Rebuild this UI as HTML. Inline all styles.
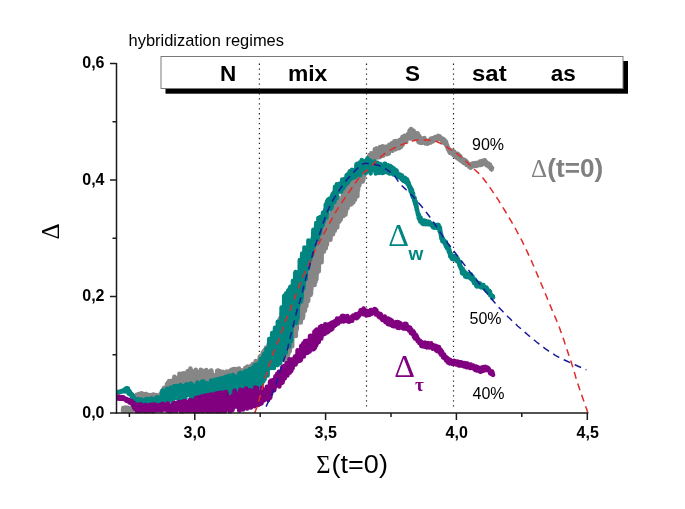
<!DOCTYPE html>
<html><head><meta charset="utf-8"><style>
html,body{margin:0;padding:0;background:#fff;}
svg{display:block;font-family:"Liberation Sans", sans-serif;will-change:transform;}
</style></head><body>
<svg width="685" height="509" viewBox="0 0 685 509">
<rect width="685" height="509" fill="#fff"/>
<!-- regime box -->
<rect x="165.5" y="61" width="462.5" height="32.7" fill="#000"/>
<rect x="161" y="56.5" width="462" height="32" fill="#fff" stroke="#7a7a7a" stroke-width="1"/>
<!-- dotted regime lines -->
<g stroke="#222" stroke-width="1.2" stroke-dasharray="1.3 3.65">
<line x1="259.4" y1="63.6" x2="259.4" y2="407"/>
<line x1="366.5" y1="63.6" x2="366.5" y2="407"/>
<line x1="453.5" y1="63.6" x2="453.5" y2="407"/>
</g>
<!-- curves -->
<clipPath id="pc"><rect x="117" y="40" width="480" height="373.5"/></clipPath>
<g clip-path="url(#pc)" fill="none" stroke-linejoin="round" stroke-linecap="round" stroke-width="4.5">
<polyline stroke="#868686" points="123.0,410.8 123.2,408.1 123.4,409.8 123.6,408.9 123.8,408.9 124.0,409.1 124.2,407.7 124.4,409.0 124.6,408.3 124.8,410.8 125.0,409.3 125.2,408.7 125.4,408.7 125.6,408.2 125.8,407.7 126.0,408.4 126.2,409.5 126.4,408.5 126.6,410.0 126.8,408.5 127.0,408.7 127.2,410.8 127.4,409.4 127.6,407.8 127.8,408.3 128.0,409.3 128.2,410.9 128.4,408.3 128.6,408.5 128.8,410.1 129.0,408.0 129.2,408.8 129.4,410.1 129.6,409.9 129.8,409.5 130.0,410.1 130.2,408.4 130.4,410.4 130.6,409.2 130.8,409.0 131.0,410.1 131.2,410.4 131.4,410.0 131.6,410.0 131.8,410.4 132.0,410.5 132.2,410.3 132.4,409.6 132.6,408.9 132.8,408.9 133.0,407.5 133.2,406.2 133.4,407.0 133.6,406.5 133.8,405.1 134.0,403.7 134.2,404.5 134.4,401.1 134.6,404.2 134.8,403.3 135.0,398.9 135.2,401.4 135.4,398.7 135.6,401.9 135.8,395.8 136.0,396.7 136.2,400.7 136.4,401.7 136.6,394.8 136.8,397.4 137.0,399.3 137.2,396.9 137.4,402.1 137.6,395.3 137.8,398.9 138.0,395.5 138.2,401.2 138.4,397.7 138.6,396.8 138.8,394.0 139.0,401.1 139.2,399.1 139.4,399.0 139.6,399.8 139.8,397.9 140.0,395.6 140.2,395.1 140.4,395.0 140.6,399.7 140.8,393.4 141.0,395.2 141.2,395.8 141.4,397.0 141.6,397.8 141.8,393.9 142.0,393.3 142.2,396.6 142.4,399.2 142.6,398.2 142.8,397.1 143.0,396.1 143.2,397.3 143.4,396.3 143.6,398.4 143.8,395.2 144.0,397.1 144.2,396.6 144.4,397.9 144.6,397.3 144.8,399.9 145.0,399.7 145.2,399.7 145.4,394.0 145.6,396.3 145.8,395.9 146.0,398.0 146.2,394.1 146.4,399.2 146.6,399.0 146.8,394.6 147.0,395.2 147.2,395.5 147.4,397.1 147.6,398.2 147.8,399.9 148.0,396.6 148.2,398.4 148.4,397.3 148.6,399.9 148.8,398.4 149.0,399.5 149.2,395.0 149.4,396.6 149.6,395.5 149.8,399.8 150.0,398.2 150.2,396.4 150.4,396.2 150.6,397.9 150.8,395.7 151.0,395.3 151.2,397.9 151.4,400.0 151.6,396.6 151.8,396.1 152.0,395.0 152.2,394.8 152.4,398.2 152.6,398.8 152.8,397.3 153.0,397.9 153.2,397.6 153.4,397.7 153.6,394.6 153.8,396.6 154.0,397.7 154.2,396.1 154.4,396.7 154.6,396.1 154.8,397.0 155.0,399.2 155.2,397.0 155.4,397.5 155.6,399.3 155.8,399.0 156.0,400.7 156.2,395.0 156.4,399.5 156.6,397.0 156.8,398.2 157.0,399.5 157.2,399.9 157.4,399.7 157.6,397.9 157.8,400.6 158.0,396.7 158.2,396.9 158.4,398.7 158.6,395.7 158.8,400.1 159.0,398.8 159.2,400.0 159.4,396.2 159.6,395.3 159.8,396.4 160.0,397.6 160.2,394.3 160.4,396.5 160.6,395.4 160.8,399.3 161.0,393.4 161.2,397.8 161.4,393.1 161.6,392.1 161.8,392.6 162.0,391.1 162.2,394.7 162.4,397.1 162.6,394.5 162.8,395.7 163.0,398.4 163.2,394.4 163.4,394.0 163.6,392.4 163.8,388.2 164.0,395.4 164.2,387.7 164.4,394.8 164.6,392.5 164.8,396.2 165.0,391.9 165.2,389.1 165.4,393.1 165.6,389.6 165.8,390.8 166.0,391.5 166.2,390.6 166.4,390.3 166.6,387.5 166.8,389.9 167.0,383.9 167.2,389.7 167.4,385.0 167.6,394.9 167.8,395.5 168.0,382.6 168.2,390.2 168.4,388.7 168.6,384.2 168.8,391.5 169.0,386.6 169.2,380.9 169.4,387.2 169.6,387.6 169.8,388.7 170.0,381.6 170.2,391.0 170.4,391.4 170.6,381.4 170.8,383.7 171.0,386.5 171.2,383.7 171.4,394.7 171.6,387.3 171.8,380.7 172.0,381.6 172.2,385.3 172.4,393.7 172.6,384.2 172.8,385.6 173.0,387.5 173.2,384.3 173.4,392.8 173.6,381.2 173.8,387.9 174.0,384.5 174.2,386.8 174.4,376.7 174.6,391.6 174.8,382.1 175.0,382.7 175.2,377.4 175.4,378.5 175.6,385.6 175.8,387.9 176.0,386.6 176.2,389.1 176.4,386.4 176.6,382.7 176.8,387.1 177.0,385.8 177.2,381.9 177.4,386.5 177.6,389.6 177.8,383.8 178.0,380.5 178.2,386.5 178.4,391.2 178.6,381.3 178.8,382.0 179.0,381.7 179.2,389.2 179.4,373.8 179.6,384.5 179.8,389.1 180.0,378.0 180.2,390.7 180.4,385.4 180.6,379.4 180.8,383.5 181.0,373.9 181.2,379.2 181.4,390.9 181.6,377.3 181.8,390.9 182.0,381.7 182.2,387.6 182.4,382.3 182.6,373.4 182.8,378.9 183.0,383.0 183.2,375.6 183.4,374.5 183.6,383.9 183.8,378.3 184.0,373.2 184.2,378.0 184.4,386.5 184.6,379.1 184.8,386.8 185.0,390.1 185.2,381.8 185.4,375.4 185.6,374.4 185.8,381.4 186.0,386.3 186.2,382.9 186.4,384.3 186.6,378.6 186.8,382.6 187.0,378.1 187.2,378.8 187.4,373.1 187.6,371.2 187.8,377.4 188.0,373.6 188.2,374.3 188.4,383.8 188.6,379.0 188.8,389.1 189.0,385.1 189.2,375.4 189.4,383.9 189.6,381.2 189.8,374.5 190.0,385.6 190.2,373.6 190.4,368.4 190.6,383.4 190.8,374.2 191.0,387.7 191.2,373.8 191.4,370.5 191.6,388.1 191.8,371.3 192.0,379.5 192.2,387.4 192.4,379.0 192.6,377.8 192.8,379.0 193.0,383.6 193.2,373.4 193.4,382.3 193.6,382.1 193.8,388.2 194.0,376.5 194.2,373.1 194.4,383.1 194.6,376.3 194.8,380.5 195.0,379.6 195.2,385.8 195.4,375.0 195.6,378.4 195.8,369.7 196.0,373.8 196.2,387.9 196.4,375.0 196.6,374.9 196.8,371.9 197.0,382.2 197.2,379.9 197.4,372.0 197.6,382.6 197.8,380.3 198.0,383.1 198.2,375.1 198.4,387.6 198.6,381.0 198.8,378.0 199.0,375.8 199.2,377.3 199.4,383.4 199.6,377.1 199.8,384.6 200.0,381.8 200.2,386.0 200.4,383.0 200.6,378.1 200.8,369.8 201.0,380.1 201.2,382.7 201.4,379.3 201.6,381.4 201.8,375.8 202.0,376.3 202.2,373.2 202.4,385.6 202.6,379.1 202.8,375.6 203.0,371.1 203.2,377.4 203.4,385.8 203.6,380.6 203.8,374.3 204.0,385.6 204.2,385.6 204.4,383.2 204.6,382.1 204.8,384.0 205.0,380.8 205.2,382.0 205.4,374.0 205.6,385.7 205.8,379.2 206.0,386.1 206.2,370.0 206.4,381.7 206.6,383.1 206.8,376.3 207.0,380.4 207.2,381.9 207.4,381.1 207.6,375.4 207.8,377.4 208.0,383.3 208.2,384.6 208.4,378.7 208.6,378.6 208.8,379.2 209.0,383.4 209.2,372.9 209.4,371.5 209.6,378.9 209.8,372.7 210.0,375.3 210.2,378.7 210.4,380.7 210.6,372.9 210.8,382.3 211.0,370.5 211.2,381.0 211.4,370.5 211.6,372.0 211.8,381.5 212.0,376.3 212.2,374.4 212.4,376.2 212.6,380.7 212.8,378.1 213.0,378.3 213.2,383.6 213.4,374.9 213.6,376.1 213.8,375.9 214.0,384.1 214.2,383.3 214.4,384.7 214.6,378.3 214.8,377.7 215.0,382.6 215.2,376.6 215.4,382.4 215.6,381.9 215.8,375.0 216.0,378.0 216.2,377.7 216.4,385.8 216.6,385.8 216.8,377.8 217.0,378.3 217.2,370.7 217.4,379.1 217.6,378.1 217.8,373.0 218.0,381.8 218.2,370.6 218.4,377.0 218.6,378.6 218.8,372.1 219.0,381.9 219.2,382.8 219.4,371.3 219.6,371.2 219.8,380.6 220.0,377.6 220.2,372.1 220.4,376.3 220.6,377.2 220.8,377.0 221.0,381.4 221.2,379.3 221.4,384.8 221.6,383.9 221.8,380.6 222.0,382.4 222.2,383.5 222.4,380.6 222.6,371.7 222.8,381.3 223.0,377.6 223.2,384.5 223.4,377.7 223.6,379.6 223.8,378.7 224.0,384.3 224.2,377.9 224.4,375.9 224.6,378.5 224.8,375.0 225.0,377.7 225.2,376.9 225.4,378.1 225.6,383.9 225.8,375.0 226.0,377.0 226.2,375.9 226.4,379.7 226.6,371.5 226.8,373.6 227.0,376.4 227.2,378.9 227.4,376.3 227.6,374.3 227.8,372.7 228.0,378.6 228.2,382.5 228.4,377.7 228.6,377.1 228.8,378.1 229.0,372.2 229.2,374.8 229.4,375.0 229.6,377.3 229.8,375.9 230.0,370.9 230.2,380.6 230.4,382.4 230.6,374.8 230.8,377.5 231.0,376.9 231.2,379.0 231.4,369.7 231.6,382.1 231.8,373.7 232.0,380.7 232.2,375.9 232.4,374.0 232.6,374.9 232.8,379.0 233.0,372.0 233.2,373.9 233.4,373.4 233.6,369.1 233.8,380.3 234.0,377.5 234.2,375.1 234.4,379.6 234.6,371.4 234.8,374.8 235.0,381.0 235.2,378.7 235.4,368.9 235.6,368.9 235.8,370.9 236.0,379.0 236.2,373.1 236.4,374.0 236.6,377.2 236.8,371.4 237.0,375.6 237.2,377.8 237.4,376.6 237.6,376.3 237.8,372.4 238.0,376.7 238.2,373.0 238.4,379.7 238.6,380.7 238.8,371.8 239.0,368.6 239.2,372.9 239.4,376.0 239.6,378.6 239.8,378.7 240.0,371.5 240.2,371.4 240.4,379.3 240.6,370.3 240.8,378.6 241.0,373.5 241.2,377.3 241.4,377.1 241.6,377.3 241.8,377.5 242.0,370.5 242.2,375.4 242.4,374.3 242.6,375.4 242.8,378.9 243.0,373.2 243.2,371.5 243.4,371.4 243.6,372.9 243.8,377.0 244.0,371.0 244.2,378.5 244.4,375.2 244.6,373.2 244.8,368.9 245.0,374.9 245.2,376.6 245.4,367.7 245.6,378.3 245.8,379.7 246.0,374.8 246.2,375.3 246.4,379.5 246.6,378.1 246.8,369.6 247.0,372.9 247.2,372.3 247.4,372.2 247.6,366.4 247.8,375.6 248.0,369.9 248.2,373.1 248.4,371.7 248.6,375.7 248.8,370.9 249.0,368.7 249.2,374.1 249.4,377.6 249.6,370.4 249.8,377.3 250.0,372.6 250.2,369.2 250.4,377.7 250.6,367.8 250.8,375.4 251.0,368.9 251.2,372.8 251.4,365.5 251.6,367.1 251.8,375.2 252.0,371.3 252.2,370.6 252.4,368.4 252.6,372.1 252.8,364.0 253.0,365.1 253.2,369.2 253.4,366.1 253.6,366.6 253.8,369.3 254.0,368.9 254.2,368.4 254.4,376.3 254.6,373.7 254.8,374.6 255.0,368.9 255.2,366.5 255.4,362.0 255.6,366.9 255.8,360.9 256.0,365.4 256.2,371.5 256.4,375.3 256.6,372.2 256.8,363.2 257.0,369.6 257.2,363.1 257.4,370.9 257.6,366.1 257.8,370.8 258.0,374.3 258.2,370.9 258.4,374.1 258.6,366.7 258.8,363.8 259.0,372.5 259.2,373.6 259.4,362.1 259.6,365.3 259.8,356.8 260.0,363.4 260.2,369.2 260.4,363.7 260.6,360.8 260.8,355.8 261.0,365.7 261.2,368.0 261.4,366.7 261.6,364.5 261.8,355.4 262.0,372.0 262.2,362.2 262.4,361.5 262.6,366.6 262.8,352.4 263.0,361.4 263.2,360.8 263.4,363.7 263.6,369.6 263.8,364.0 264.0,351.0 264.2,358.6 264.4,361.9 264.6,361.3 264.8,351.9 265.0,349.8 265.2,363.4 265.4,361.8 265.6,359.1 265.8,348.3 266.0,369.6 266.2,347.6 266.4,355.7 266.6,369.2 266.8,356.6 267.0,359.2 267.2,348.6 267.4,367.0 267.6,347.1 267.8,358.4 268.0,357.3 268.2,347.9 268.4,362.6 268.6,344.4 268.8,349.9 269.0,354.8 269.2,351.4 269.4,358.3 269.6,361.8 269.8,351.6 270.0,349.2 270.2,349.2 270.4,350.1 270.6,359.9 270.8,350.9 271.0,356.0 271.2,351.5 271.4,344.5 271.6,359.5 271.8,342.2 272.0,351.3 272.2,364.6 272.4,340.7 272.6,350.0 272.8,335.5 273.0,345.2 273.2,335.5 273.4,346.0 273.6,344.1 273.8,350.3 274.0,364.2 274.2,351.3 274.4,354.8 274.6,347.5 274.8,345.3 275.0,339.0 275.2,331.0 275.4,347.8 275.6,363.9 275.8,351.9 276.0,340.5 276.2,364.3 276.4,341.1 276.6,338.6 276.8,331.1 277.0,333.7 277.2,342.2 277.4,365.1 277.6,342.2 277.8,331.2 278.0,336.4 278.2,341.3 278.4,322.5 278.6,345.7 278.8,353.6 279.0,348.1 279.2,352.1 279.4,324.0 279.6,319.3 279.8,362.2 280.0,359.4 280.2,318.2 280.4,345.4 280.6,342.3 280.8,350.6 281.0,344.9 281.2,332.9 281.4,344.4 281.6,343.6 281.8,339.9 282.0,312.9 282.2,312.6 282.4,325.9 282.6,311.8 282.8,343.4 283.0,351.1 283.2,342.8 283.4,331.4 283.6,338.7 283.8,357.4 284.0,324.0 284.2,352.3 284.4,348.2 284.6,340.1 284.8,360.3 285.0,322.3 285.2,350.7 285.4,317.9 285.6,320.3 285.8,314.9 286.0,340.5 286.2,316.2 286.4,333.0 286.6,312.1 286.8,349.7 287.0,358.0 287.2,334.4 287.4,357.2 287.6,339.4 287.8,356.4 288.0,330.7 288.2,301.7 288.4,353.8 288.6,325.7 288.8,309.7 289.0,315.9 289.2,299.8 289.4,323.5 289.6,307.6 289.8,350.9 290.0,336.5 290.2,297.9 290.4,298.7 290.6,314.4 290.8,296.8 291.0,321.4 291.2,322.1 291.4,309.4 291.6,312.8 291.8,330.2 292.0,345.4 292.2,346.3 292.4,321.1 292.6,334.7 292.8,307.3 293.0,326.4 293.2,302.8 293.4,331.0 293.6,297.4 293.8,301.6 294.0,317.4 294.2,326.3 294.4,292.2 294.6,306.8 294.8,317.5 295.0,318.5 295.2,300.0 295.4,315.2 295.6,308.5 295.8,336.0 296.0,321.2 296.2,289.1 296.4,284.4 296.6,311.9 296.8,329.4 297.0,312.0 297.2,323.2 297.4,299.8 297.6,284.6 297.8,319.3 298.0,307.9 298.2,317.1 298.4,282.1 298.6,307.6 298.8,293.6 299.0,316.8 299.2,293.2 299.4,292.2 299.6,292.0 299.8,322.2 300.0,301.1 300.2,287.5 300.4,282.6 300.6,281.6 300.8,322.6 301.0,271.8 301.2,283.2 301.4,307.2 301.6,315.6 301.8,293.1 302.0,308.0 302.2,306.9 302.4,310.0 302.6,294.0 302.8,318.3 303.0,295.5 303.2,316.4 303.4,273.3 303.6,305.6 303.8,269.8 304.0,265.4 304.2,296.8 304.4,275.1 304.6,294.7 304.8,270.2 305.0,310.7 305.2,286.1 305.4,267.7 305.6,287.6 305.8,297.9 306.0,271.8 306.2,291.0 306.4,305.9 306.6,295.2 306.8,281.2 307.0,272.1 307.2,289.1 307.4,256.9 307.6,254.8 307.8,268.9 308.0,262.2 308.2,301.0 308.4,279.7 308.6,262.4 308.8,259.3 309.0,283.8 309.2,263.4 309.4,266.7 309.6,273.6 309.8,275.8 310.0,275.5 310.2,275.4 310.4,292.5 310.6,295.1 310.8,248.0 311.0,294.1 311.2,273.3 311.4,289.3 311.6,259.6 311.8,274.9 312.0,272.8 312.2,270.8 312.4,281.2 312.6,277.5 312.8,253.1 313.0,265.7 313.2,277.5 313.4,276.5 313.6,261.1 313.8,261.5 314.0,262.9 314.2,248.7 314.4,245.6 314.6,284.9 314.8,257.5 315.0,263.9 315.2,251.6 315.4,279.5 315.6,281.7 315.8,257.5 316.0,267.0 316.2,249.3 316.4,279.1 316.6,270.8 316.8,246.9 317.0,273.8 317.2,261.7 317.4,261.8 317.6,260.5 317.8,246.9 318.0,248.1 318.2,262.2 318.4,253.3 318.6,241.7 318.8,271.3 319.0,249.8 319.2,245.1 319.4,243.0 319.6,259.0 319.8,261.8 320.0,252.7 320.2,259.4 320.4,231.5 320.6,244.0 320.8,242.4 321.0,247.3 321.2,252.2 321.4,228.1 321.6,262.3 321.8,235.8 322.0,248.4 322.2,253.0 322.4,252.7 322.6,245.7 322.8,225.6 323.0,230.9 323.2,249.3 323.4,231.7 323.6,229.9 323.8,223.9 324.0,251.5 324.2,244.1 324.4,229.9 324.6,237.0 324.8,236.9 325.0,226.5 325.2,234.4 325.4,239.1 325.6,241.6 325.8,248.2 326.0,235.7 326.2,230.6 326.4,238.6 326.6,228.2 326.8,221.7 327.0,244.5 327.2,229.4 327.4,233.9 327.6,238.6 327.8,221.3 328.0,237.7 328.2,235.5 328.4,229.8 328.6,234.1 328.8,222.7 329.0,214.4 329.2,226.5 329.4,220.1 329.6,236.7 329.8,230.6 330.0,222.6 330.2,227.7 330.4,239.7 330.6,237.3 330.8,229.6 331.0,229.8 331.2,222.7 331.4,223.8 331.6,230.1 331.8,223.1 332.0,226.6 332.2,213.0 332.4,208.1 332.6,207.8 332.8,218.2 333.0,234.3 333.2,232.5 333.4,211.8 333.6,206.3 333.8,227.7 334.0,224.3 334.2,206.9 334.4,229.0 334.6,220.4 334.8,230.7 335.0,221.2 335.2,225.9 335.4,220.2 335.6,208.2 335.8,214.4 336.0,209.9 336.2,223.4 336.4,206.3 336.6,201.1 336.8,221.1 337.0,225.0 337.2,227.4 337.4,223.8 337.6,199.6 337.8,206.7 338.0,207.8 338.2,212.2 338.4,197.6 338.6,211.7 338.8,214.0 339.0,202.4 339.2,211.9 339.4,221.4 339.6,210.5 339.8,219.5 340.0,218.7 340.2,212.9 340.4,212.3 340.6,205.0 340.8,219.5 341.0,203.5 341.2,201.0 341.4,213.6 341.6,200.1 341.8,210.3 342.0,215.8 342.2,206.5 342.4,206.4 342.6,213.5 342.8,211.7 343.0,190.3 343.2,192.1 343.4,216.0 343.6,207.0 343.8,188.6 344.0,190.4 344.2,202.7 344.4,193.2 344.6,206.1 344.8,202.2 345.0,205.7 345.2,190.1 345.4,206.2 345.6,214.4 345.8,192.6 346.0,211.6 346.2,208.2 346.4,204.8 346.6,197.9 346.8,187.5 347.0,189.8 347.2,204.5 347.4,206.2 347.6,208.1 347.8,205.3 348.0,204.5 348.2,191.9 348.4,184.6 348.6,197.2 348.8,199.6 349.0,195.6 349.2,180.6 349.4,189.4 349.6,180.4 349.8,194.9 350.0,183.8 350.2,191.5 350.4,195.7 350.6,193.7 350.8,204.6 351.0,181.9 351.2,177.1 351.4,199.9 351.6,203.7 351.8,203.7 352.0,193.0 352.2,195.0 352.4,191.0 352.6,177.9 352.8,184.2 353.0,193.5 353.2,183.5 353.4,202.3 353.6,174.3 353.8,184.0 354.0,197.5 354.2,181.8 354.4,176.9 354.6,174.5 354.8,179.9 355.0,199.6 355.2,189.5 355.4,190.2 355.6,180.6 355.8,192.5 356.0,185.6 356.2,176.2 356.4,180.1 356.6,185.6 356.8,193.9 357.0,182.7 357.2,187.4 357.4,196.3 357.6,175.3 357.8,171.1 358.0,190.5 358.2,185.2 358.4,180.2 358.6,182.9 358.8,177.6 359.0,184.1 359.2,176.9 359.4,185.5 359.6,169.7 359.8,172.2 360.0,178.9 360.2,174.2 360.4,182.3 360.6,176.6 360.8,172.8 361.0,177.6 361.2,172.3 361.4,165.2 361.6,167.7 361.8,169.6 362.0,171.4 362.2,174.5 362.4,178.9 362.6,176.4 362.8,181.5 363.0,179.5 363.2,171.1 363.4,179.7 363.6,177.3 363.8,168.7 364.0,172.1 364.2,175.3 364.4,170.9 364.6,173.9 364.8,170.8 365.0,171.6 365.2,167.0 365.4,169.5 365.6,166.2 365.8,170.0 366.0,160.4 366.2,167.9 366.4,171.2 366.6,168.1 366.8,165.4 367.0,167.2 367.2,161.6 367.4,161.3 367.6,162.8 367.8,163.2 368.0,167.0 368.2,159.8 368.4,166.3 368.6,156.8 368.8,159.2 369.0,161.5 369.2,165.3 369.4,158.9 369.6,155.1 369.8,161.7 370.0,159.8 370.2,156.0 370.4,155.8 370.6,156.6 370.8,158.8 371.0,160.2 371.2,153.3 371.4,162.6 371.6,157.4 371.8,156.2 372.0,159.3 372.2,157.3 372.4,161.6 372.6,160.0 372.8,155.2 373.0,154.9 373.2,154.4 373.4,154.7 373.6,157.7 373.8,153.3 374.0,160.0 374.2,154.7 374.4,154.3 374.6,157.5 374.8,149.2 375.0,151.2 375.2,156.0 375.4,154.0 375.6,153.9 375.8,155.1 376.0,151.8 376.2,153.1 376.4,149.3 376.6,148.4 376.8,157.4 377.0,150.4 377.2,151.0 377.4,157.6 377.6,156.5 377.8,151.4 378.0,151.3 378.2,152.6 378.4,149.8 378.6,154.5 378.8,153.1 379.0,153.0 379.2,154.9 379.4,154.7 379.6,157.2 379.8,157.1 380.0,147.1 380.2,155.0 380.4,148.5 380.6,147.4 380.8,154.1 381.0,149.6 381.2,150.7 381.4,155.0 381.6,149.5 381.8,148.7 382.0,152.5 382.2,155.2 382.4,152.9 382.6,146.3 382.8,149.1 383.0,150.6 383.2,155.8 383.4,153.7 383.6,153.5 383.8,154.5 384.0,149.7 384.2,152.1 384.4,152.1 384.6,147.3 384.8,150.3 385.0,152.1 385.2,146.8 385.4,152.7 385.6,152.4 385.8,153.2 386.0,147.4 386.2,150.2 386.4,154.3 386.6,152.2 386.8,147.1 387.0,150.2 387.2,153.9 387.4,149.1 387.6,150.5 387.8,154.1 388.0,149.0 388.2,148.7 388.4,145.8 388.6,146.8 388.8,153.6 389.0,148.3 389.2,144.8 389.4,145.6 389.6,148.5 389.8,150.9 390.0,145.9 390.2,150.6 390.4,146.6 390.6,149.2 390.8,149.7 391.0,149.9 391.2,146.4 391.4,147.2 391.6,149.3 391.8,143.3 392.0,148.1 392.2,149.1 392.4,150.8 392.6,147.1 392.8,146.6 393.0,147.6 393.2,144.5 393.4,146.2 393.6,148.2 393.8,147.7 394.0,143.1 394.2,145.5 394.4,141.2 394.6,149.2 394.8,144.5 395.0,147.1 395.2,142.4 395.4,145.8 395.6,147.6 395.8,149.3 396.0,141.1 396.2,148.7 396.4,145.1 396.6,142.9 396.8,147.2 397.0,144.4 397.2,144.3 397.4,142.7 397.6,145.7 397.8,144.9 398.0,144.1 398.2,141.3 398.4,142.7 398.6,145.5 398.8,148.2 399.0,143.8 399.2,148.2 399.4,143.5 399.6,140.0 399.8,145.2 400.0,140.1 400.2,144.1 400.4,146.0 400.6,141.7 400.8,142.2 401.0,147.0 401.2,142.8 401.4,142.7 401.6,144.0 401.8,141.4 402.0,141.3 402.2,142.4 402.4,137.0 402.6,144.9 402.8,138.0 403.0,137.9 403.2,142.0 403.4,140.5 403.6,137.1 403.8,140.6 404.0,137.1 404.2,138.0 404.4,135.8 404.6,137.3 404.8,140.2 405.0,139.3 405.2,139.6 405.4,141.0 405.6,138.4 405.8,136.6 406.0,137.4 406.2,142.1 406.4,137.8 406.6,138.4 406.8,137.1 407.0,137.8 407.2,138.1 407.4,136.8 407.6,136.2 407.8,134.3 408.0,134.0 408.2,137.1 408.4,137.9 408.6,138.2 408.8,135.6 409.0,133.1 409.2,136.8 409.4,136.6 409.6,130.6 409.8,136.8 410.0,136.0 410.2,138.6 410.4,130.9 410.6,130.2 410.8,135.9 411.0,129.0 411.2,131.5 411.4,130.6 411.6,130.9 411.8,129.5 412.0,133.3 412.2,136.7 412.4,135.4 412.6,135.5 412.8,133.4 413.0,138.4 413.2,136.0 413.4,137.5 413.6,130.7 413.8,135.8 414.0,132.0 414.2,136.0 414.4,135.7 414.6,132.4 414.8,135.8 415.0,138.5 415.2,136.9 415.4,137.2 415.6,133.6 415.8,134.2 416.0,133.2 416.2,136.5 416.4,139.3 416.6,137.5 416.8,136.6 417.0,134.0 417.2,138.0 417.4,136.5 417.6,133.3 417.8,133.4 418.0,136.7 418.2,135.4 418.4,141.7 418.6,138.0 418.8,135.5 419.0,137.0 419.2,142.3 419.4,136.2 419.6,140.6 419.8,139.9 420.0,142.7 420.2,140.4 420.4,138.2 420.6,140.5 420.8,139.5 421.0,141.6 421.2,139.3 421.4,143.1 421.6,139.4 421.8,140.7 422.0,138.4 422.2,140.1 422.4,140.0 422.6,140.3 422.8,141.9 423.0,139.1 423.2,138.6 423.4,142.4 423.6,139.8 423.8,139.2 424.0,142.6 424.2,142.0 424.4,137.9 424.6,140.1 424.8,142.2 425.0,142.3 425.2,140.1 425.4,143.5 425.6,139.9 425.8,140.8 426.0,141.5 426.2,141.3 426.4,142.6 426.6,142.9 426.8,141.5 427.0,143.5 427.2,140.8 427.4,141.5 427.6,143.8 427.8,142.1 428.0,143.3 428.2,141.4 428.4,141.5 428.6,141.6 428.8,141.8 429.0,141.1 429.2,141.5 429.4,142.1 429.6,142.6 429.8,141.3 430.0,141.8 430.2,142.0 430.4,139.6 430.6,138.9 430.8,142.4 431.0,142.1 431.2,140.5 431.4,140.7 431.6,139.1 431.8,138.5 432.0,140.4 432.2,138.2 432.4,140.9 432.6,138.9 432.8,140.0 433.0,141.3 433.2,141.2 433.4,139.0 433.6,140.5 433.8,137.9 434.0,138.4 434.2,139.4 434.4,140.4 434.6,138.1 434.8,139.3 435.0,138.7 435.2,137.0 435.4,138.2 435.6,140.0 435.8,138.0 436.0,138.6 436.2,138.9 436.4,137.0 436.6,139.2 436.8,139.4 437.0,139.3 437.2,139.0 437.4,136.8 437.6,136.5 437.8,136.2 438.0,136.0 438.2,136.2 438.4,138.5 438.6,139.2 438.8,136.9 439.0,138.7 439.2,136.4 439.4,137.6 439.6,137.0 439.8,136.4 440.0,138.5 440.2,138.7 440.4,138.3 440.6,138.3 440.8,137.9 441.0,139.0 441.2,138.6 441.4,139.7 441.6,138.2 441.8,140.0 442.0,140.5 442.2,141.5 442.4,141.4 442.6,140.5 442.8,139.6 443.0,138.7 443.2,140.7 443.4,142.5 443.6,142.8 443.8,139.3 444.0,140.4 444.2,141.0 444.4,140.4 444.6,141.9 444.8,141.9 445.0,141.4 445.2,142.3 445.4,140.9 445.6,142.0 445.8,142.4 446.0,144.9 446.2,142.3 446.4,144.3 446.6,145.8 446.8,145.2 447.0,146.6 447.2,145.2 447.4,146.8 447.6,147.7 447.8,148.9 448.0,148.3 448.2,149.4 448.4,148.1 448.6,148.6 448.8,150.7 449.0,149.9 449.2,151.2 449.4,150.8 449.6,152.1 449.8,152.5 450.0,150.0 450.2,153.0 450.4,151.8 450.6,152.0 450.8,151.4 451.0,152.5 451.2,150.4 451.4,151.0 451.6,151.1 451.8,152.5 452.0,153.5 452.2,153.4 452.4,153.0 452.6,151.9 452.8,150.8 453.0,153.5 453.2,153.3 453.4,153.7 453.6,155.3 453.8,153.2 454.0,153.3 454.2,151.5 454.4,154.6 454.6,153.9 454.8,153.1 455.0,154.8 455.2,152.9 455.4,153.7 455.6,156.9 455.8,155.9 456.0,156.2 456.2,156.1 456.4,156.1 456.6,155.6 456.8,157.7 457.0,155.4 457.2,156.8 457.4,155.5 457.6,155.5 457.8,153.8 458.0,154.0 458.2,158.8 458.4,158.8 458.6,156.2 458.8,156.9 459.0,158.0 459.2,155.9 459.4,159.7 459.6,156.2 459.8,156.8 460.0,155.8 460.2,160.2 460.4,158.4 460.6,160.6 460.8,157.3 461.0,159.2 461.2,159.0 461.4,159.4 461.6,161.3 461.8,161.4 462.0,161.4 462.2,159.2 462.4,161.0 462.6,161.8 462.8,160.9 463.0,161.1 463.2,161.2 463.4,159.6 463.6,161.2 463.8,162.9 464.0,160.0 464.2,161.5 464.4,162.5 464.6,160.1 464.8,161.7 465.0,160.2 465.2,161.5 465.4,160.7 465.6,161.4 465.8,162.1 466.0,162.5 466.2,162.7 466.4,161.3 466.6,165.1 466.8,163.1 467.0,162.3 467.2,163.0 467.4,164.3 467.6,162.9 467.8,163.8 468.0,163.9 468.2,165.2 468.4,163.8 468.6,165.4 468.8,165.4 469.0,165.0 469.2,166.8 469.4,165.5 469.6,164.3 469.8,166.2 470.0,166.1 470.2,165.9 470.4,166.2 470.6,167.7 470.8,166.0 471.0,166.2 471.2,165.4 471.4,167.1 471.6,165.5 471.8,164.5 472.0,164.0 472.2,166.0 472.4,166.2 472.6,163.4 472.8,164.4 473.0,165.9 473.2,166.3 473.4,163.5 473.6,164.5 473.8,165.9 474.0,164.2 474.2,164.3 474.4,164.1 474.6,163.2 474.8,164.7 475.0,164.9 475.2,162.9 475.4,164.6 475.6,165.7 475.8,164.6 476.0,165.4 476.2,163.6 476.4,165.8 476.6,163.2 476.8,165.9 477.0,163.5 477.2,163.1 477.4,162.9 477.6,163.4 477.8,163.2 478.0,162.9 478.2,163.3 478.4,164.4 478.6,164.6 478.8,163.2 479.0,164.9 479.2,162.3 479.4,162.2 479.6,162.0 479.8,164.0 480.0,161.4 480.2,161.6 480.4,164.6 480.6,164.9 480.8,164.6 481.0,161.3 481.2,163.0 481.4,163.9 481.6,163.0 481.8,161.0 482.0,162.3 482.2,160.9 482.4,161.2 482.6,164.4 482.8,163.3 483.0,160.8 483.2,160.7 483.4,162.9 483.6,161.6 483.8,163.0 484.0,161.5 484.2,162.0 484.4,162.4 484.6,160.9 484.8,160.2 485.0,160.6 485.2,161.3 485.4,162.1 485.6,162.4 485.8,162.6 486.0,163.4 486.2,162.0 486.4,164.8 486.6,165.2 486.8,164.0 487.0,163.9 487.2,165.3 487.4,164.8 487.6,164.4 487.8,164.2 488.0,163.7 488.2,163.4 488.4,165.7 488.6,166.5 488.8,164.0 489.0,165.3 489.2,165.8 489.4,165.3 489.6,165.0 489.8,165.6 490.0,164.4 490.2,166.4 490.4,166.3 490.6,168.6 490.8,168.0 491.0,166.7 491.2,167.3 491.4,169.3 491.6,169.5 491.8,168.0 492.0,167.8"/>
<polyline stroke="#008581" points="117.0,392.1 117.2,392.1 117.4,392.1 117.6,392.1 117.8,392.1 118.0,392.0 118.2,391.9 118.4,391.9 118.6,392.0 118.8,392.0 119.0,391.9 119.2,391.7 119.4,391.7 119.6,392.0 119.8,391.8 120.0,391.6 120.2,391.7 120.4,391.6 120.6,391.6 120.8,391.6 121.0,391.5 121.2,391.7 121.4,391.6 121.6,391.5 121.8,391.6 122.0,391.6 122.2,391.1 122.4,391.3 122.6,391.0 122.8,391.2 123.0,390.7 123.2,391.1 123.4,391.0 123.6,390.8 123.8,390.3 124.0,390.6 124.2,390.1 124.4,389.8 124.6,390.8 124.8,389.7 125.0,391.5 125.2,391.1 125.4,388.9 125.6,390.7 125.8,389.2 126.0,390.4 126.2,390.4 126.4,388.2 126.6,389.9 126.8,389.8 127.0,391.6 127.2,388.3 127.4,391.3 127.6,388.2 127.8,389.4 128.0,388.5 128.2,392.9 128.4,391.5 128.6,393.5 128.8,392.1 129.0,392.7 129.2,392.9 129.4,390.9 129.6,392.0 129.8,394.3 130.0,392.1 130.2,393.2 130.4,393.2 130.6,394.2 130.8,393.3 131.0,393.8 131.2,394.6 131.4,394.8 131.6,394.0 131.8,396.4 132.0,394.2 132.2,394.7 132.4,395.0 132.6,397.9 132.8,396.7 133.0,396.4 133.2,396.5 133.4,398.7 133.6,397.3 133.8,397.4 134.0,400.0 134.2,398.2 134.4,399.6 134.6,400.3 134.8,400.1 135.0,400.9 135.2,402.6 135.4,400.4 135.6,399.5 135.8,399.2 136.0,400.8 136.2,400.6 136.4,401.4 136.6,400.5 136.8,400.5 137.0,400.2 137.2,400.4 137.4,401.3 137.6,400.6 137.8,401.2 138.0,403.1 138.2,401.7 138.4,399.2 138.6,403.1 138.8,401.6 139.0,400.0 139.2,402.3 139.4,401.2 139.6,400.4 139.8,400.4 140.0,399.9 140.2,401.3 140.4,402.6 140.6,400.8 140.8,401.8 141.0,403.3 141.2,399.6 141.4,401.6 141.6,400.8 141.8,399.8 142.0,399.9 142.2,401.3 142.4,401.9 142.6,400.6 142.8,401.4 143.0,402.3 143.2,401.7 143.4,402.5 143.6,402.0 143.8,402.0 144.0,403.5 144.2,402.2 144.4,401.5 144.6,402.4 144.8,400.1 145.0,400.9 145.2,402.5 145.4,402.3 145.6,403.6 145.8,401.4 146.0,399.3 146.2,403.7 146.4,403.0 146.6,399.9 146.8,403.5 147.0,401.5 147.2,399.1 147.4,400.9 147.6,400.7 147.8,403.8 148.0,400.3 148.2,401.1 148.4,401.1 148.6,400.9 148.8,400.0 149.0,401.8 149.2,403.1 149.4,402.4 149.6,399.9 149.8,399.5 150.0,401.5 150.2,400.2 150.4,400.3 150.6,398.8 150.8,403.9 151.0,402.8 151.2,399.7 151.4,402.8 151.6,403.5 151.8,398.6 152.0,400.3 152.2,400.5 152.4,402.3 152.6,401.0 152.8,400.8 153.0,401.0 153.2,403.9 153.4,403.9 153.6,400.2 153.8,399.4 154.0,403.9 154.2,399.3 154.4,400.0 154.6,401.1 154.8,401.9 155.0,402.9 155.2,401.7 155.4,399.3 155.6,401.8 155.8,401.3 156.0,403.9 156.2,400.7 156.4,398.0 156.6,398.5 156.8,403.6 157.0,399.5 157.2,397.2 157.4,399.3 157.6,400.5 157.8,403.1 158.0,398.1 158.2,401.9 158.4,402.1 158.6,398.7 158.8,399.8 159.0,403.9 159.2,403.9 159.4,402.2 159.6,400.9 159.8,402.9 160.0,399.6 160.2,399.5 160.4,397.2 160.6,399.2 160.8,398.7 161.0,403.3 161.2,397.8 161.4,402.1 161.6,402.1 161.8,397.0 162.0,401.3 162.2,391.6 162.4,397.1 162.6,399.7 162.8,390.4 163.0,391.6 163.2,400.0 163.4,394.9 163.6,391.6 163.8,394.4 164.0,393.7 164.2,398.6 164.4,397.5 164.6,394.6 164.8,393.0 165.0,395.4 165.2,400.7 165.4,396.9 165.6,398.0 165.8,394.8 166.0,390.2 166.2,392.5 166.4,397.9 166.6,395.6 166.8,391.6 167.0,388.8 167.2,395.5 167.4,393.7 167.6,393.6 167.8,393.6 168.0,396.1 168.2,396.1 168.4,398.8 168.6,398.6 168.8,400.2 169.0,398.0 169.2,393.3 169.4,394.4 169.6,396.6 169.8,393.3 170.0,396.8 170.2,399.3 170.4,391.0 170.6,387.7 170.8,399.3 171.0,394.3 171.2,397.1 171.4,388.4 171.6,400.8 171.8,397.1 172.0,393.4 172.2,392.3 172.4,394.3 172.6,393.0 172.8,392.4 173.0,388.7 173.2,399.1 173.4,393.3 173.6,393.7 173.8,393.8 174.0,386.3 174.2,395.6 174.4,391.7 174.6,391.8 174.8,393.4 175.0,388.6 175.2,396.8 175.4,389.8 175.6,388.9 175.8,389.0 176.0,393.7 176.2,396.3 176.4,390.2 176.6,386.0 176.8,397.7 177.0,388.0 177.2,398.3 177.4,392.6 177.6,389.6 177.8,389.9 178.0,394.9 178.2,396.9 178.4,391.9 178.6,397.2 178.8,400.1 179.0,391.8 179.2,387.3 179.4,387.8 179.6,386.2 179.8,389.7 180.0,389.2 180.2,386.4 180.4,395.2 180.6,385.1 180.8,386.3 181.0,400.1 181.2,397.5 181.4,395.1 181.6,394.8 181.8,400.1 182.0,395.1 182.2,392.9 182.4,386.6 182.6,392.1 182.8,388.9 183.0,389.0 183.2,389.0 183.4,392.2 183.6,390.8 183.8,396.7 184.0,385.9 184.2,391.6 184.4,400.1 184.6,392.6 184.8,398.3 185.0,398.0 185.2,398.8 185.4,396.0 185.6,385.4 185.8,390.9 186.0,390.4 186.2,384.5 186.4,389.9 186.6,386.0 186.8,384.3 187.0,393.3 187.2,392.0 187.4,388.7 187.6,387.4 187.8,389.4 188.0,390.1 188.2,390.0 188.4,391.8 188.6,389.9 188.8,394.1 189.0,394.7 189.2,393.9 189.4,388.6 189.6,388.9 189.8,394.3 190.0,391.0 190.2,391.7 190.4,383.8 190.6,383.7 190.8,393.6 191.0,393.6 191.2,399.1 191.4,395.5 191.6,392.9 191.8,391.8 192.0,384.2 192.2,396.3 192.4,388.5 192.6,394.2 192.8,392.6 193.0,393.0 193.2,396.2 193.4,388.9 193.6,389.4 193.8,386.9 194.0,389.4 194.2,399.7 194.4,389.4 194.6,397.6 194.8,395.7 195.0,395.1 195.2,395.5 195.4,385.8 195.6,393.2 195.8,399.6 196.0,387.4 196.2,390.8 196.4,387.3 196.6,392.7 196.8,385.2 197.0,399.5 197.2,388.9 197.4,382.5 197.6,399.4 197.8,396.1 198.0,393.6 198.2,393.7 198.4,388.8 198.6,389.5 198.8,394.6 199.0,395.7 199.2,395.7 199.4,391.8 199.6,388.0 199.8,389.5 200.0,396.6 200.2,398.4 200.4,388.6 200.6,387.8 200.8,397.4 201.0,394.4 201.2,394.3 201.4,383.1 201.6,388.3 201.8,387.5 202.0,391.5 202.2,381.6 202.4,397.5 202.6,392.0 202.8,392.8 203.0,383.7 203.2,390.2 203.4,397.8 203.6,381.4 203.8,392.0 204.0,394.2 204.2,386.3 204.4,394.9 204.6,388.3 204.8,397.2 205.0,393.2 205.2,391.5 205.4,399.2 205.6,394.9 205.8,397.7 206.0,383.3 206.2,386.4 206.4,394.9 206.6,395.3 206.8,389.8 207.0,394.6 207.2,383.9 207.4,391.3 207.6,383.4 207.8,392.0 208.0,387.2 208.2,386.2 208.4,390.3 208.6,399.2 208.8,384.0 209.0,386.4 209.2,396.2 209.4,387.4 209.6,399.2 209.8,391.2 210.0,390.4 210.2,392.0 210.4,399.2 210.6,393.7 210.8,392.9 211.0,391.3 211.2,380.5 211.4,384.5 211.6,398.7 211.8,394.7 212.0,392.8 212.2,393.6 212.4,386.5 212.6,391.7 212.8,384.3 213.0,392.1 213.2,385.4 213.4,388.4 213.6,392.4 213.8,387.7 214.0,393.6 214.2,392.4 214.4,391.8 214.6,397.7 214.8,380.6 215.0,379.9 215.2,393.3 215.4,395.3 215.6,399.2 215.8,394.2 216.0,394.6 216.2,384.0 216.4,394.1 216.6,393.6 216.8,382.8 217.0,383.7 217.2,388.6 217.4,391.1 217.6,379.3 217.8,389.6 218.0,390.6 218.2,388.0 218.4,390.8 218.6,391.9 218.8,382.6 219.0,391.6 219.2,387.3 219.4,382.8 219.6,390.2 219.8,398.4 220.0,379.4 220.2,378.6 220.4,378.5 220.6,398.9 220.8,387.0 221.0,388.2 221.2,383.4 221.4,382.4 221.6,378.2 221.8,389.6 222.0,390.1 222.2,378.0 222.4,381.4 222.6,383.4 222.8,388.1 223.0,389.9 223.2,395.7 223.4,397.3 223.6,395.3 223.8,397.1 224.0,380.2 224.2,384.3 224.4,395.7 224.6,389.9 224.8,388.1 225.0,377.2 225.2,377.1 225.4,392.8 225.6,390.1 225.8,385.7 226.0,384.9 226.2,376.8 226.4,390.2 226.6,394.8 226.8,398.5 227.0,387.9 227.2,386.1 227.4,379.8 227.6,396.0 227.8,398.4 228.0,383.1 228.2,389.4 228.4,387.9 228.6,383.2 228.8,376.1 229.0,384.6 229.2,391.5 229.4,376.8 229.6,381.1 229.8,375.8 230.0,396.2 230.2,390.6 230.4,387.3 230.6,385.0 230.8,382.3 231.0,386.3 231.2,384.6 231.4,385.0 231.6,386.5 231.8,387.6 232.0,398.0 232.2,376.0 232.4,388.5 232.6,382.0 232.8,378.2 233.0,374.9 233.2,390.9 233.4,379.1 233.6,380.8 233.8,389.8 234.0,378.2 234.2,386.4 234.4,385.6 234.6,392.2 234.8,393.7 235.0,379.6 235.2,392.9 235.4,385.3 235.6,386.9 235.8,384.4 236.0,391.8 236.2,376.7 236.4,387.8 236.6,394.8 236.8,383.6 237.0,397.9 237.2,380.1 237.4,387.3 237.6,382.0 237.8,380.9 238.0,377.0 238.2,381.4 238.4,385.1 238.6,379.3 238.8,392.3 239.0,397.2 239.2,373.5 239.4,391.9 239.6,386.8 239.8,387.2 240.0,397.7 240.2,394.7 240.4,387.8 240.6,386.6 240.8,372.8 241.0,391.3 241.2,379.2 241.4,386.5 241.6,385.8 241.8,392.7 242.0,397.5 242.2,392.8 242.4,395.1 242.6,383.0 242.8,388.5 243.0,391.0 243.2,373.2 243.4,397.5 243.6,379.0 243.8,374.4 244.0,397.4 244.2,397.4 244.4,378.9 244.6,379.6 244.8,397.4 245.0,385.4 245.2,371.5 245.4,379.3 245.6,397.1 245.8,389.5 246.0,390.1 246.2,393.9 246.4,389.3 246.6,381.0 246.8,370.7 247.0,387.1 247.2,374.3 247.4,382.8 247.6,396.1 247.8,387.5 248.0,383.5 248.2,383.4 248.4,388.8 248.6,390.2 248.8,371.8 249.0,384.0 249.2,395.3 249.4,388.5 249.6,376.0 249.8,376.5 250.0,369.1 250.2,375.4 250.4,394.7 250.6,381.1 250.8,374.6 251.0,376.8 251.2,380.5 251.4,380.3 251.6,378.2 251.8,374.6 252.0,386.0 252.2,393.4 252.4,375.8 252.6,375.9 252.8,390.1 253.0,367.8 253.2,375.0 253.4,376.6 253.6,381.1 253.8,377.2 254.0,371.9 254.2,381.8 254.4,369.0 254.6,365.5 254.8,365.4 255.0,385.0 255.2,365.0 255.4,382.2 255.6,384.0 255.8,385.0 256.0,376.4 256.2,373.0 256.4,378.4 256.6,372.3 256.8,366.1 257.0,388.2 257.2,369.2 257.4,390.8 257.6,381.3 257.8,372.6 258.0,380.4 258.2,387.0 258.4,363.4 258.6,367.0 258.8,365.5 259.0,376.0 259.2,377.8 259.4,374.0 259.6,366.6 259.8,368.1 260.0,383.4 260.2,382.4 260.4,372.9 260.6,359.1 260.8,376.8 261.0,373.2 261.2,372.5 261.4,384.6 261.6,377.1 261.8,359.6 262.0,359.2 262.2,381.4 262.4,369.7 262.6,375.9 262.8,365.9 263.0,357.2 263.2,369.3 263.4,381.2 263.6,369.3 263.8,354.3 264.0,362.0 264.2,359.8 264.4,366.2 264.6,374.4 264.8,378.9 265.0,365.7 265.2,358.8 265.4,363.7 265.6,362.7 265.8,357.9 266.0,362.2 266.2,361.7 266.4,349.1 266.6,366.9 266.8,357.0 267.0,350.1 267.2,365.4 267.4,354.7 267.6,375.4 267.8,364.4 268.0,359.8 268.2,350.5 268.4,353.9 268.6,367.3 268.8,350.2 269.0,365.8 269.2,338.9 269.4,359.0 269.6,365.5 269.8,359.9 270.0,355.8 270.2,366.9 270.4,345.6 270.6,343.8 270.8,355.8 271.0,368.0 271.2,358.9 271.4,351.4 271.6,356.8 271.8,358.1 272.0,338.1 272.2,333.0 272.4,339.9 272.6,334.0 272.8,344.5 273.0,336.7 273.2,340.4 273.4,355.7 273.6,351.3 273.8,349.6 274.0,367.9 274.2,343.6 274.4,344.3 274.6,364.4 274.8,334.6 275.0,327.7 275.2,364.3 275.4,351.4 275.6,354.5 275.8,354.7 276.0,358.0 276.2,338.2 276.4,343.3 276.6,327.5 276.8,345.4 277.0,346.4 277.2,335.2 277.4,352.4 277.6,364.9 277.8,321.8 278.0,354.1 278.2,355.7 278.4,357.6 278.6,324.6 278.8,359.5 279.0,349.5 279.2,334.9 279.4,330.3 279.6,340.9 279.8,353.7 280.0,352.5 280.2,362.9 280.4,327.8 280.6,346.5 280.8,325.8 281.0,349.0 281.2,336.1 281.4,321.7 281.6,307.4 281.8,317.8 282.0,336.9 282.2,359.2 282.4,346.5 282.6,308.4 282.8,321.6 283.0,331.2 283.2,327.6 283.4,330.7 283.6,343.7 283.8,332.4 284.0,314.7 284.2,295.9 284.4,320.4 284.6,295.4 284.8,322.8 285.0,331.3 285.2,299.7 285.4,321.7 285.6,317.4 285.8,352.7 286.0,331.3 286.2,293.2 286.4,330.1 286.6,329.1 286.8,317.3 287.0,313.6 287.2,331.3 287.4,332.0 287.6,327.4 287.8,300.6 288.0,313.9 288.2,290.4 288.4,290.3 288.6,307.1 288.8,297.7 289.0,309.0 289.2,346.6 289.4,324.8 289.6,299.3 289.8,288.2 290.0,299.4 290.2,287.9 290.4,286.8 290.6,325.5 290.8,303.1 291.0,319.0 291.2,341.0 291.4,314.7 291.6,311.3 291.8,314.8 292.0,303.3 292.2,292.7 292.4,303.0 292.6,326.3 292.8,300.8 293.0,280.8 293.2,282.4 293.4,285.7 293.6,303.3 293.8,310.9 294.0,310.3 294.2,322.1 294.4,297.4 294.6,314.8 294.8,305.5 295.0,311.5 295.2,273.1 295.4,319.7 295.6,272.0 295.8,278.1 296.0,310.0 296.2,289.7 296.4,323.1 296.6,297.9 296.8,277.3 297.0,296.7 297.2,286.6 297.4,318.3 297.6,318.1 297.8,303.2 298.0,283.8 298.2,291.0 298.4,305.6 298.6,275.5 298.8,274.9 299.0,299.8 299.2,297.2 299.4,281.6 299.6,280.3 299.8,260.1 300.0,300.3 300.2,280.3 300.4,260.5 300.6,264.2 300.8,267.0 301.0,301.4 301.2,287.9 301.4,258.9 301.6,298.4 301.8,294.2 302.0,260.9 302.2,253.4 302.4,286.4 302.6,265.0 302.8,270.4 303.0,264.6 303.2,286.6 303.4,288.4 303.6,279.1 303.8,266.4 304.0,270.7 304.2,274.4 304.4,247.6 304.6,280.2 304.8,261.4 305.0,267.5 305.2,265.5 305.4,273.4 305.6,274.4 305.8,279.1 306.0,257.8 306.2,251.5 306.4,261.8 306.6,253.2 306.8,267.8 307.0,250.7 307.2,259.4 307.4,266.4 307.6,266.4 307.8,258.2 308.0,268.5 308.2,266.6 308.4,240.5 308.6,257.0 308.8,254.9 309.0,250.3 309.2,247.0 309.4,251.9 309.6,254.0 309.8,252.5 310.0,260.0 310.2,256.7 310.4,244.3 310.6,242.6 310.8,253.9 311.0,242.0 311.2,247.8 311.4,249.6 311.6,253.0 311.8,248.8 312.0,254.9 312.2,240.7 312.4,248.2 312.6,238.3 312.8,243.7 313.0,242.8 313.2,234.9 313.4,229.7 313.6,246.9 313.8,242.3 314.0,240.2 314.2,234.0 314.4,236.0 314.6,240.8 314.8,237.3 315.0,244.4 315.2,236.9 315.4,230.2 315.6,239.1 315.8,230.4 316.0,235.4 316.2,223.0 316.4,230.7 316.6,236.0 316.8,227.7 317.0,231.2 317.2,234.5 317.4,230.7 317.6,239.4 317.8,227.6 318.0,227.6 318.2,227.2 318.4,218.0 318.6,218.0 318.8,230.0 319.0,224.4 319.2,234.1 319.4,225.0 319.6,224.0 319.8,230.5 320.0,225.7 320.2,232.5 320.4,217.1 320.6,225.2 320.8,226.0 321.0,224.9 321.2,227.7 321.4,226.5 321.6,220.6 321.8,216.9 322.0,224.8 322.2,219.3 322.4,223.7 322.6,225.3 322.8,218.8 323.0,212.7 323.2,215.6 323.4,220.6 323.6,215.0 323.8,221.8 324.0,215.6 324.2,215.7 324.4,211.5 324.6,213.8 324.8,219.3 325.0,211.8 325.2,211.4 325.4,208.8 325.6,216.0 325.8,204.4 326.0,208.2 326.2,215.4 326.4,217.4 326.6,209.1 326.8,214.3 327.0,201.6 327.2,212.5 327.4,209.9 327.6,202.4 327.8,200.1 328.0,205.0 328.2,208.1 328.4,208.2 328.6,206.6 328.8,209.2 329.0,208.4 329.2,198.7 329.4,202.8 329.6,201.8 329.8,208.4 330.0,201.2 330.2,207.5 330.4,203.1 330.6,209.1 330.8,201.7 331.0,201.6 331.2,200.7 331.4,201.5 331.6,207.3 331.8,197.8 332.0,195.7 332.2,198.4 332.4,201.9 332.6,194.1 332.8,201.8 333.0,201.2 333.2,196.7 333.4,195.9 333.6,193.1 333.8,195.1 334.0,192.3 334.2,201.1 334.4,202.1 334.6,193.5 334.8,194.2 335.0,186.8 335.2,191.3 335.4,194.8 335.6,194.1 335.8,193.1 336.0,196.0 336.2,192.3 336.4,190.0 336.6,198.2 336.8,184.2 337.0,186.0 337.2,187.6 337.4,187.4 337.6,187.0 337.8,189.1 338.0,186.8 338.2,189.3 338.4,191.7 338.6,189.2 338.8,189.3 339.0,184.9 339.2,183.9 339.4,187.0 339.6,191.4 339.8,189.0 340.0,191.5 340.2,190.8 340.4,191.0 340.6,183.7 340.8,190.9 341.0,188.9 341.2,191.5 341.4,187.8 341.6,186.6 341.8,184.8 342.0,185.6 342.2,179.5 342.4,183.7 342.6,184.2 342.8,187.3 343.0,181.8 343.2,184.1 343.4,188.3 343.6,181.5 343.8,185.5 344.0,181.1 344.2,182.2 344.4,183.6 344.6,184.6 344.8,180.4 345.0,178.7 345.2,185.6 345.4,181.6 345.6,183.1 345.8,183.2 346.0,182.5 346.2,179.4 346.4,179.5 346.6,175.3 346.8,179.9 347.0,177.9 347.2,178.9 347.4,183.2 347.6,180.4 347.8,178.4 348.0,174.2 348.2,179.8 348.4,181.8 348.6,175.0 348.8,178.3 349.0,175.4 349.2,176.2 349.4,175.4 349.6,171.7 349.8,174.5 350.0,171.2 350.2,179.3 350.4,178.1 350.6,175.1 350.8,175.5 351.0,174.7 351.2,174.9 351.4,174.8 351.6,173.4 351.8,173.4 352.0,169.8 352.2,170.6 352.4,171.7 352.6,174.0 352.8,172.0 353.0,178.0 353.2,172.3 353.4,171.6 353.6,174.0 353.8,175.8 354.0,177.5 354.2,175.4 354.4,170.0 354.6,171.3 354.8,175.3 355.0,172.4 355.2,174.2 355.4,171.0 355.6,176.7 355.8,176.1 356.0,174.9 356.2,171.2 356.4,164.6 356.6,165.4 356.8,171.5 357.0,172.5 357.2,163.8 357.4,168.1 357.6,174.2 357.8,173.3 358.0,167.6 358.2,171.9 358.4,169.4 358.6,168.3 358.8,173.6 359.0,173.6 359.2,166.7 359.4,164.8 359.6,163.2 359.8,162.5 360.0,174.0 360.2,175.0 360.4,169.1 360.6,172.6 360.8,165.0 361.0,167.5 361.2,171.8 361.4,169.0 361.6,167.3 361.8,159.9 362.0,160.6 362.2,165.2 362.4,164.5 362.6,166.6 362.8,163.8 363.0,165.7 363.2,167.0 363.4,169.1 363.6,166.9 363.8,164.0 364.0,165.3 364.2,170.9 364.4,165.6 364.6,161.9 364.8,161.6 365.0,167.8 365.2,169.2 365.4,172.4 365.6,164.8 365.8,173.1 366.0,164.7 366.2,165.2 366.4,163.5 366.6,168.9 366.8,171.5 367.0,166.1 367.2,163.7 367.4,158.5 367.6,166.9 367.8,164.4 368.0,165.1 368.2,163.0 368.4,161.9 368.6,164.2 368.8,168.5 369.0,171.0 369.2,166.4 369.4,168.1 369.6,165.7 369.8,166.1 370.0,160.4 370.2,170.8 370.4,169.5 370.6,173.4 370.8,164.2 371.0,167.6 371.2,163.0 371.4,168.2 371.6,166.6 371.8,170.1 372.0,166.7 372.2,170.1 372.4,165.4 372.6,169.9 372.8,166.3 373.0,165.8 373.2,168.0 373.4,169.1 373.6,162.1 373.8,161.8 374.0,168.4 374.2,167.5 374.4,161.5 374.6,161.6 374.8,164.9 375.0,169.0 375.2,168.5 375.4,171.4 375.6,172.0 375.8,173.5 376.0,162.9 376.2,167.8 376.4,171.5 376.6,163.8 376.8,163.3 377.0,168.6 377.2,171.5 377.4,172.0 377.6,162.8 377.8,164.3 378.0,167.8 378.2,166.5 378.4,169.1 378.6,168.5 378.8,173.0 379.0,168.0 379.2,168.7 379.4,168.4 379.6,171.5 379.8,164.8 380.0,169.4 380.2,165.9 380.4,164.0 380.6,171.8 380.8,169.8 381.0,172.4 381.2,169.0 381.4,170.2 381.6,168.7 381.8,170.0 382.0,167.1 382.2,173.0 382.4,165.8 382.6,173.0 382.8,167.8 383.0,170.9 383.2,168.8 383.4,169.7 383.6,172.7 383.8,168.9 384.0,165.8 384.2,169.2 384.4,170.4 384.6,163.8 384.8,171.3 385.0,171.6 385.2,163.8 385.4,168.1 385.6,170.9 385.8,165.3 386.0,167.4 386.2,167.7 386.4,170.2 386.6,171.7 386.8,168.6 387.0,168.8 387.2,171.3 387.4,170.3 387.6,168.6 387.8,172.6 388.0,165.3 388.2,169.6 388.4,168.2 388.6,168.0 388.8,169.9 389.0,169.6 389.2,173.5 389.4,171.3 389.6,170.6 389.8,173.6 390.0,172.4 390.2,166.1 390.4,170.4 390.6,171.9 390.8,168.9 391.0,171.0 391.2,169.4 391.4,171.4 391.6,167.0 391.8,167.1 392.0,169.6 392.2,171.4 392.4,173.8 392.6,170.5 392.8,169.6 393.0,173.1 393.2,171.4 393.4,174.5 393.6,171.3 393.8,168.4 394.0,170.1 394.2,169.9 394.4,169.2 394.6,170.4 394.8,170.7 395.0,171.5 395.2,171.2 395.4,173.1 395.6,173.3 395.8,173.1 396.0,173.3 396.2,170.3 396.4,170.5 396.6,172.0 396.8,174.1 397.0,171.4 397.2,173.3 397.4,174.6 397.6,177.0 397.8,175.0 398.0,173.9 398.2,176.7 398.4,175.4 398.6,174.8 398.8,177.2 399.0,174.2 399.2,176.1 399.4,176.1 399.6,177.5 399.8,174.6 400.0,174.6 400.2,176.1 400.4,176.4 400.6,177.0 400.8,176.5 401.0,177.8 401.2,178.3 401.4,177.7 401.6,176.0 401.8,179.3 402.0,175.6 402.2,177.6 402.4,179.3 402.6,177.3 402.8,180.0 403.0,180.6 403.2,180.7 403.4,179.3 403.6,180.1 403.8,178.3 404.0,179.6 404.2,179.8 404.4,179.4 404.6,179.6 404.8,179.3 405.0,177.7 405.2,180.3 405.4,180.3 405.6,182.0 405.8,181.1 406.0,180.4 406.2,181.5 406.4,181.3 406.6,180.7 406.8,180.4 407.0,179.3 407.2,181.6 407.4,183.8 407.6,180.5 407.8,181.7 408.0,184.2 408.2,184.0 408.4,184.7 408.6,182.7 408.8,184.4 409.0,186.2 409.2,186.8 409.4,186.9 409.6,185.8 409.8,188.2 410.0,186.3 410.2,187.1 410.4,187.2 410.6,191.3 410.8,189.1 411.0,190.3 411.2,188.4 411.4,192.7 411.6,192.2 411.8,189.7 412.0,190.1 412.2,195.5 412.4,192.3 412.6,196.7 412.8,194.2 413.0,193.1 413.2,197.7 413.4,197.4 413.6,198.3 413.8,197.1 414.0,198.2 414.2,200.5 414.4,198.5 414.6,197.9 414.8,202.2 415.0,200.6 415.2,204.0 415.4,202.0 415.6,202.6 415.8,203.5 416.0,202.1 416.2,207.1 416.4,205.3 416.6,206.8 416.8,210.1 417.0,209.0 417.2,211.0 417.4,211.0 417.6,212.6 417.8,212.7 418.0,214.9 418.2,213.7 418.4,215.6 418.6,214.7 418.8,218.4 419.0,215.1 419.2,218.1 419.4,218.6 419.6,218.9 419.8,218.7 420.0,220.8 420.2,221.5 420.4,218.8 420.6,217.8 420.8,218.8 421.0,219.4 421.2,220.6 421.4,221.0 421.6,222.7 421.8,221.2 422.0,221.9 422.2,222.2 422.4,221.1 422.6,221.7 422.8,223.9 423.0,222.1 423.2,221.1 423.4,220.5 423.6,223.4 423.8,222.0 424.0,221.7 424.2,224.1 424.4,224.0 424.6,220.8 424.8,222.1 425.0,223.6 425.2,223.4 425.4,221.5 425.6,224.3 425.8,224.3 426.0,221.6 426.2,221.2 426.4,221.4 426.6,223.5 426.8,223.9 427.0,223.1 427.2,222.4 427.4,222.9 427.6,223.6 427.8,221.9 428.0,221.7 428.2,223.1 428.4,224.3 428.6,223.4 428.8,223.4 429.0,222.7 429.2,224.1 429.4,222.0 429.6,223.3 429.8,222.9 430.0,223.4 430.2,222.8 430.4,224.4 430.6,223.8 430.8,223.5 431.0,224.6 431.2,224.3 431.4,224.0 431.6,224.0 431.8,225.5 432.0,224.0 432.2,224.8 432.4,224.9 432.6,225.6 432.8,225.2 433.0,227.2 433.2,224.1 433.4,226.5 433.6,225.9 433.8,227.3 434.0,224.6 434.2,227.8 434.4,225.0 434.6,227.5 434.8,227.4 435.0,227.0 435.2,226.1 435.4,225.9 435.6,227.0 435.8,225.9 436.0,224.9 436.2,224.9 436.4,227.8 436.6,227.8 436.8,227.4 437.0,226.8 437.2,227.2 437.4,227.3 437.6,227.0 437.8,225.5 438.0,225.5 438.2,224.9 438.4,226.8 438.6,225.1 438.8,226.3 439.0,228.4 439.2,226.7 439.4,229.5 439.6,231.2 439.8,227.3 440.0,228.3 440.2,232.0 440.4,231.0 440.6,233.7 440.8,234.7 441.0,233.7 441.2,236.5 441.4,238.5 441.6,238.3 441.8,236.4 442.0,238.3 442.2,237.9 442.4,241.3 442.6,238.9 442.8,238.4 443.0,239.8 443.2,240.7 443.4,239.6 443.6,240.6 443.8,240.7 444.0,242.0 444.2,242.6 444.4,241.8 444.6,241.0 444.8,242.7 445.0,241.2 445.2,244.4 445.4,243.7 445.6,243.9 445.8,241.7 446.0,246.5 446.2,246.7 446.4,246.8 446.6,245.6 446.8,246.7 447.0,248.2 447.2,245.7 447.4,247.9 447.6,248.1 447.8,247.9 448.0,248.5 448.2,247.3 448.4,249.6 448.6,247.8 448.8,251.8 449.0,251.6 449.2,250.1 449.4,249.7 449.6,252.5 449.8,253.7 450.0,252.2 450.2,256.3 450.4,255.2 450.6,254.7 450.8,253.9 451.0,256.4 451.2,256.4 451.4,257.7 451.6,258.3 451.8,256.9 452.0,257.6 452.2,259.0 452.4,257.9 452.6,256.8 452.8,258.1 453.0,256.6 453.2,257.9 453.4,257.5 453.6,256.0 453.8,258.3 454.0,257.7 454.2,258.6 454.4,256.1 454.6,259.2 454.8,259.3 455.0,257.5 455.2,257.9 455.4,258.1 455.6,258.1 455.8,259.3 456.0,257.6 456.2,257.2 456.4,258.5 456.6,260.9 456.8,258.6 457.0,258.0 457.2,258.2 457.4,259.8 457.6,261.4 457.8,258.9 458.0,260.3 458.2,260.6 458.4,261.1 458.6,260.8 458.8,262.8 459.0,262.9 459.2,261.5 459.4,265.5 459.6,261.5 459.8,262.1 460.0,266.6 460.2,265.8 460.4,265.7 460.6,267.1 460.8,268.5 461.0,267.2 461.2,267.5 461.4,267.4 461.6,268.3 461.8,269.0 462.0,273.2 462.2,271.8 462.4,272.4 462.6,270.6 462.8,273.7 463.0,269.3 463.2,273.0 463.4,273.6 463.6,271.6 463.8,271.0 464.0,273.8 464.2,272.0 464.4,271.9 464.6,273.5 464.8,271.9 465.0,273.7 465.2,276.5 465.4,273.6 465.6,275.8 465.8,273.0 466.0,274.7 466.2,274.3 466.4,274.5 466.6,275.9 466.8,277.1 467.0,274.7 467.2,276.8 467.4,275.5 467.6,276.1 467.8,274.4 468.0,274.1 468.2,274.9 468.4,274.2 468.6,275.3 468.8,273.9 469.0,275.4 469.2,275.7 469.4,277.6 469.6,277.7 469.8,276.3 470.0,275.0 470.2,276.5 470.4,276.9 470.6,275.8 470.8,275.2 471.0,274.4 471.2,276.8 471.4,279.2 471.6,277.1 471.8,278.2 472.0,278.4 472.2,278.8 472.4,279.5 472.6,276.4 472.8,278.7 473.0,279.8 473.2,279.3 473.4,281.5 473.6,279.5 473.8,281.6 474.0,282.9 474.2,280.4 474.4,281.1 474.6,280.9 474.8,282.8 475.0,279.5 475.2,280.0 475.4,282.0 475.6,284.0 475.8,283.8 476.0,282.0 476.2,285.8 476.4,283.9 476.6,283.1 476.8,285.1 477.0,286.5 477.2,284.5 477.4,282.5 477.6,283.9 477.8,284.9 478.0,286.2 478.2,283.5 478.4,285.3 478.6,283.4 478.8,285.2 479.0,283.4 479.2,284.6 479.4,283.3 479.6,284.1 479.8,283.4 480.0,283.4 480.2,286.9 480.4,286.9 480.6,286.1 480.8,285.2 481.0,287.3 481.2,285.4 481.4,286.3 481.6,287.1 481.8,286.2 482.0,287.5 482.2,285.9 482.4,285.9 482.6,286.3 482.8,285.1 483.0,285.3 483.2,287.0 483.4,284.9 483.6,287.4 483.8,286.7 484.0,287.5 484.2,287.4 484.4,287.5 484.6,288.6 484.8,287.4 485.0,287.6 485.2,289.0 485.4,287.5 485.6,289.5 485.8,289.3 486.0,288.3 486.2,287.7 486.4,287.6 486.6,291.1 486.8,288.1 487.0,288.6 487.2,291.1 487.4,290.9 487.6,290.9 487.8,290.9 488.0,290.6 488.2,290.2 488.4,290.7 488.6,292.5 488.8,293.3 489.0,293.6 489.2,292.5 489.4,290.8 489.6,293.6 489.8,293.0 490.0,291.6 490.2,295.3 490.4,294.2 490.6,294.1 490.8,294.7 491.0,294.8 491.2,295.2 491.4,295.3 491.6,295.4 491.8,296.3 492.0,296.3 492.2,297.9 492.4,296.5 492.6,296.0 492.8,296.1 493.0,297.5"/>
<polyline stroke="#800080" points="117.0,396.9 117.2,397.8 117.4,396.4 117.6,398.1 117.8,398.5 118.0,397.3 118.2,398.0 118.4,397.9 118.6,397.4 118.8,397.1 119.0,396.6 119.2,398.7 119.4,397.7 119.6,398.8 119.8,398.3 120.0,398.0 120.2,397.4 120.4,398.7 120.6,397.5 120.8,398.8 121.0,397.6 121.2,398.0 121.4,397.0 121.6,398.8 121.8,397.9 122.0,397.7 122.2,398.4 122.4,397.5 122.6,398.4 122.8,397.4 123.0,398.3 123.2,397.6 123.4,397.4 123.6,398.0 123.8,397.6 124.0,398.8 124.2,398.6 124.4,399.0 124.6,398.9 124.8,398.7 125.0,399.0 125.2,399.7 125.4,399.1 125.6,398.8 125.8,398.8 126.0,399.4 126.2,399.1 126.4,400.7 126.6,399.0 126.8,399.2 127.0,399.8 127.2,400.6 127.4,400.0 127.6,399.6 127.8,399.8 128.0,400.2 128.2,401.3 128.4,400.0 128.6,400.7 128.8,400.4 129.0,401.3 129.2,401.4 129.4,400.0 129.6,402.6 129.8,401.6 130.0,401.1 130.2,400.9 130.4,401.6 130.6,402.1 130.8,402.8 131.0,402.4 131.2,403.1 131.4,401.0 131.6,402.0 131.8,401.9 132.0,403.5 132.2,404.1 132.4,401.7 132.6,403.6 132.8,405.0 133.0,405.5 133.2,402.7 133.4,405.4 133.6,405.3 133.8,404.2 134.0,407.7 134.2,403.3 134.4,404.9 134.6,406.4 134.8,406.2 135.0,405.6 135.2,408.8 135.4,409.2 135.6,408.4 135.8,408.8 136.0,406.7 136.2,404.5 136.4,410.7 136.6,405.2 136.8,411.2 137.0,407.5 137.2,408.3 137.4,407.4 137.6,410.0 137.8,406.6 138.0,411.4 138.2,409.0 138.4,408.2 138.6,406.6 138.8,408.5 139.0,407.9 139.2,411.4 139.4,410.0 139.6,404.4 139.8,411.3 140.0,404.5 140.2,411.3 140.4,404.5 140.6,408.0 140.8,409.8 141.0,408.0 141.2,405.6 141.4,410.7 141.6,404.7 141.8,404.9 142.0,411.0 142.2,406.2 142.4,408.6 142.6,409.8 142.8,407.9 143.0,408.7 143.2,408.4 143.4,408.6 143.6,410.6 143.8,410.1 144.0,408.8 144.2,410.1 144.4,407.1 144.6,406.7 144.8,406.2 145.0,409.8 145.2,411.4 145.4,408.4 145.6,405.1 145.8,407.2 146.0,409.2 146.2,408.8 146.4,408.4 146.6,410.2 146.8,410.1 147.0,405.4 147.2,409.1 147.4,406.7 147.6,408.6 147.8,410.7 148.0,411.4 148.2,409.6 148.4,407.1 148.6,407.4 148.8,409.2 149.0,406.1 149.2,408.0 149.4,409.4 149.6,410.0 149.8,407.5 150.0,408.9 150.2,411.0 150.4,408.7 150.6,404.7 150.8,408.5 151.0,408.6 151.2,407.1 151.4,408.1 151.6,404.9 151.8,410.7 152.0,408.9 152.2,406.8 152.4,408.5 152.6,408.3 152.8,406.1 153.0,404.6 153.2,404.5 153.4,411.4 153.6,405.5 153.8,407.3 154.0,409.2 154.2,407.1 154.4,410.6 154.6,405.8 154.8,409.2 155.0,404.4 155.2,409.5 155.4,409.4 155.6,408.7 155.8,408.6 156.0,408.5 156.2,409.8 156.4,410.0 156.6,405.7 156.8,410.2 157.0,405.7 157.2,408.2 157.4,407.3 157.6,408.9 157.8,407.1 158.0,408.7 158.2,406.7 158.4,405.6 158.6,410.3 158.8,409.1 159.0,409.0 159.2,410.0 159.4,405.3 159.6,409.9 159.8,405.3 160.0,408.6 160.2,407.3 160.4,408.4 160.6,409.4 160.8,407.8 161.0,405.5 161.2,409.9 161.4,410.5 161.6,409.3 161.8,410.2 162.0,403.9 162.2,407.8 162.4,407.4 162.6,403.9 162.8,407.9 163.0,407.7 163.2,404.0 163.4,405.6 163.6,407.8 163.8,409.1 164.0,409.3 164.2,404.9 164.4,405.0 164.6,406.4 164.8,407.5 165.0,406.2 165.2,407.1 165.4,409.3 165.6,409.2 165.8,407.9 166.0,404.7 166.2,406.3 166.4,408.9 166.6,409.7 166.8,410.2 167.0,404.9 167.2,406.4 167.4,404.5 167.6,403.6 167.8,404.8 168.0,403.5 168.2,411.0 168.4,408.7 168.6,405.8 168.8,407.6 169.0,408.5 169.2,411.4 169.4,409.4 169.6,411.3 169.8,408.7 170.0,410.8 170.2,411.1 170.4,409.8 170.6,407.5 170.8,410.2 171.0,406.4 171.2,411.1 171.4,406.7 171.6,405.6 171.8,411.4 172.0,406.3 172.2,407.8 172.4,404.6 172.6,405.5 172.8,406.5 173.0,404.7 173.2,410.5 173.4,405.4 173.6,404.0 173.8,410.3 174.0,409.2 174.2,403.1 174.4,405.8 174.6,409.9 174.8,405.2 175.0,406.5 175.2,406.6 175.4,403.0 175.6,404.8 175.8,409.3 176.0,411.1 176.2,407.0 176.4,406.9 176.6,408.7 176.8,407.6 177.0,408.5 177.2,404.6 177.4,407.1 177.6,408.5 177.8,408.7 178.0,402.5 178.2,409.4 178.4,407.3 178.6,407.4 178.8,402.3 179.0,407.0 179.2,402.2 179.4,402.1 179.6,407.1 179.8,406.8 180.0,407.0 180.2,407.3 180.4,406.8 180.6,410.1 180.8,409.2 181.0,411.5 181.2,411.5 181.4,409.1 181.6,409.2 181.8,411.5 182.0,403.9 182.2,405.6 182.4,407.5 182.6,401.7 182.8,409.7 183.0,411.5 183.2,402.5 183.4,403.9 183.6,409.4 183.8,410.9 184.0,401.2 184.2,408.2 184.4,405.7 184.6,401.1 184.8,404.9 185.0,404.4 185.2,406.6 185.4,406.4 185.6,405.3 185.8,405.7 186.0,405.6 186.2,407.9 186.4,409.4 186.6,409.4 186.8,403.0 187.0,403.3 187.2,403.7 187.4,411.0 187.6,407.7 187.8,403.3 188.0,401.9 188.2,402.4 188.4,406.0 188.6,401.9 188.8,405.8 189.0,410.7 189.2,404.9 189.4,408.9 189.6,400.3 189.8,407.1 190.0,406.8 190.2,402.3 190.4,410.8 190.6,405.6 190.8,403.0 191.0,404.5 191.2,409.2 191.4,400.3 191.6,406.1 191.8,401.8 192.0,406.3 192.2,403.4 192.4,405.1 192.6,408.3 192.8,405.5 193.0,407.5 193.2,408.1 193.4,406.9 193.6,406.1 193.8,405.4 194.0,407.7 194.2,410.0 194.4,411.6 194.6,411.6 194.8,400.9 195.0,406.2 195.2,407.0 195.4,410.1 195.6,409.4 195.8,398.8 196.0,406.0 196.2,398.1 196.4,402.7 196.6,400.7 196.8,402.1 197.0,411.6 197.2,402.3 197.4,402.4 197.6,405.2 197.8,409.3 198.0,397.5 198.2,411.6 198.4,401.0 198.6,400.0 198.8,405.0 199.0,407.5 199.2,411.6 199.4,408.5 199.6,401.6 199.8,403.3 200.0,399.8 200.2,407.3 200.4,408.1 200.6,402.6 200.8,409.5 201.0,396.7 201.2,401.8 201.4,399.7 201.6,401.2 201.8,396.5 202.0,408.6 202.2,399.4 202.4,403.3 202.6,409.7 202.8,411.6 203.0,409.6 203.2,396.2 203.4,402.4 203.6,402.1 203.8,400.4 204.0,399.9 204.2,401.0 204.4,406.7 204.6,401.4 204.8,397.0 205.0,395.9 205.2,404.4 205.4,395.8 205.6,407.2 205.8,401.1 206.0,401.0 206.2,404.7 206.4,401.7 206.6,407.2 206.8,396.9 207.0,395.5 207.2,411.6 207.4,404.4 207.6,395.3 207.8,411.6 208.0,396.0 208.2,411.6 208.4,411.6 208.6,408.0 208.8,403.4 209.0,398.7 209.2,408.4 209.4,401.2 209.6,409.1 209.8,401.8 210.0,394.8 210.2,399.5 210.4,403.5 210.6,400.5 210.8,403.9 211.0,398.2 211.2,411.7 211.4,400.3 211.6,406.0 211.8,394.5 212.0,407.6 212.2,411.6 212.4,406.4 212.6,401.7 212.8,397.9 213.0,406.4 213.2,406.2 213.4,395.7 213.6,403.1 213.8,406.0 214.0,398.5 214.2,406.3 214.4,401.4 214.6,411.1 214.8,395.6 215.0,405.8 215.2,403.5 215.4,393.7 215.6,397.4 215.8,397.8 216.0,408.1 216.2,400.6 216.4,402.6 216.6,403.5 216.8,411.7 217.0,401.2 217.2,411.7 217.4,401.5 217.6,393.3 217.8,397.7 218.0,395.2 218.2,400.3 218.4,393.8 218.6,397.0 218.8,411.7 219.0,403.8 219.2,404.4 219.4,411.7 219.6,392.9 219.8,405.7 220.0,399.5 220.2,402.1 220.4,398.1 220.6,403.0 220.8,409.7 221.0,409.5 221.2,403.7 221.4,407.2 221.6,394.9 221.8,392.6 222.0,408.5 222.2,411.6 222.4,405.0 222.6,398.3 222.8,402.4 223.0,409.5 223.2,394.9 223.4,402.5 223.6,405.8 223.8,395.7 224.0,411.6 224.2,407.0 224.4,411.6 224.6,395.3 224.8,403.2 225.0,411.4 225.2,404.6 225.4,409.7 225.6,392.0 225.8,401.3 226.0,392.0 226.2,398.7 226.4,403.6 226.6,401.0 226.8,393.8 227.0,403.6 227.2,405.8 227.4,401.0 227.6,406.7 227.8,408.8 228.0,409.4 228.2,399.5 228.4,404.8 228.6,397.5 228.8,401.0 229.0,408.3 229.2,400.8 229.4,398.6 229.6,397.7 229.8,404.7 230.0,411.4 230.2,407.3 230.4,400.0 230.6,406.5 230.8,407.4 231.0,410.7 231.2,397.0 231.4,405.4 231.6,398.7 231.8,397.8 232.0,409.3 232.2,404.7 232.4,401.7 232.6,409.9 232.8,402.3 233.0,395.5 233.2,407.0 233.4,395.2 233.6,395.5 233.8,398.4 234.0,400.1 234.2,406.9 234.4,398.8 234.6,390.8 234.8,397.3 235.0,403.0 235.2,400.2 235.4,400.1 235.6,393.0 235.8,398.3 236.0,404.6 236.2,404.6 236.4,395.3 236.6,396.0 236.8,394.3 237.0,406.7 237.2,395.7 237.4,398.8 237.6,395.1 237.8,394.5 238.0,399.6 238.2,406.2 238.4,396.6 238.6,407.9 238.8,399.9 239.0,404.9 239.2,410.4 239.4,410.4 239.6,402.0 239.8,400.6 240.0,399.0 240.2,404.6 240.4,389.7 240.6,395.3 240.8,399.0 241.0,394.8 241.2,393.3 241.4,408.2 241.6,390.2 241.8,396.8 242.0,395.8 242.2,396.5 242.4,392.7 242.6,404.4 242.8,398.7 243.0,409.6 243.2,390.5 243.4,400.1 243.6,391.0 243.8,400.7 244.0,406.8 244.2,391.7 244.4,405.6 244.6,393.8 244.8,391.6 245.0,401.1 245.2,403.8 245.4,399.8 245.6,400.9 245.8,398.6 246.0,395.5 246.2,388.5 246.4,396.3 246.6,394.1 246.8,402.1 247.0,393.2 247.2,408.6 247.4,402.4 247.6,395.6 247.8,402.5 248.0,396.7 248.2,406.4 248.4,395.5 248.6,407.3 248.8,391.3 249.0,398.7 249.2,397.6 249.4,392.2 249.6,395.8 249.8,397.9 250.0,390.2 250.2,392.3 250.4,400.8 250.6,392.8 250.8,407.5 251.0,407.4 251.2,394.5 251.4,399.7 251.6,400.7 251.8,401.9 252.0,393.9 252.2,401.9 252.4,393.9 252.6,396.5 252.8,404.9 253.0,396.5 253.2,391.0 253.4,393.4 253.6,398.9 253.8,392.1 254.0,390.7 254.2,397.6 254.4,390.8 254.6,406.3 254.8,392.4 255.0,400.8 255.2,387.5 255.4,394.4 255.6,401.4 255.8,399.6 256.0,400.2 256.2,392.9 256.4,397.5 256.6,395.1 256.8,388.0 257.0,402.8 257.2,392.3 257.4,394.8 257.6,401.0 257.8,399.8 258.0,404.9 258.2,395.7 258.4,404.0 258.6,395.4 258.8,396.2 259.0,401.8 259.2,399.5 259.4,393.2 259.6,395.4 259.8,396.8 260.0,404.0 260.2,391.9 260.4,397.0 260.6,398.9 260.8,396.4 261.0,393.1 261.2,399.8 261.4,391.0 261.6,403.3 261.8,387.9 262.0,387.9 262.2,396.2 262.4,398.5 262.6,397.5 262.8,392.2 263.0,394.3 263.2,395.0 263.4,390.3 263.6,392.8 263.8,389.8 264.0,400.4 264.2,396.5 264.4,392.0 264.6,392.2 264.8,391.6 265.0,392.2 265.2,395.2 265.4,391.8 265.6,390.9 265.8,395.5 266.0,392.4 266.2,393.2 266.4,393.5 266.6,392.0 266.8,386.8 267.0,391.4 267.2,399.3 267.4,387.8 267.6,387.9 267.8,390.0 268.0,390.1 268.2,399.9 268.4,390.3 268.6,398.4 268.8,396.3 269.0,395.8 269.2,395.2 269.4,393.5 269.6,394.3 269.8,398.3 270.0,381.8 270.2,392.9 270.4,397.2 270.6,386.5 270.8,389.7 271.0,394.4 271.2,380.6 271.4,390.7 271.6,382.9 271.8,389.8 272.0,390.2 272.2,389.2 272.4,382.4 272.6,387.4 272.8,383.9 273.0,388.4 273.2,384.7 273.4,382.1 273.6,390.5 273.8,379.8 274.0,383.0 274.2,390.3 274.4,386.5 274.6,388.6 274.8,379.7 275.0,384.8 275.2,379.8 275.4,376.3 275.6,386.1 275.8,378.3 276.0,383.5 276.2,378.2 276.4,385.3 276.6,385.2 276.8,377.1 277.0,376.8 277.2,373.8 277.4,379.1 277.6,380.1 277.8,377.3 278.0,384.6 278.2,380.3 278.4,380.6 278.6,376.9 278.8,371.8 279.0,380.3 279.2,384.5 279.4,386.4 279.6,380.3 279.8,371.8 280.0,377.0 280.2,379.5 280.4,372.0 280.6,375.9 280.8,374.1 281.0,372.9 281.2,371.5 281.4,378.7 281.6,379.6 281.8,383.1 282.0,374.6 282.2,376.1 282.4,367.1 282.6,376.7 282.8,382.2 283.0,370.5 283.2,377.0 283.4,371.4 283.6,376.5 283.8,377.2 284.0,365.9 284.2,368.4 284.4,368.9 284.6,371.4 284.8,378.5 285.0,372.0 285.2,372.2 285.4,372.2 285.6,367.8 285.8,375.8 286.0,372.8 286.2,373.8 286.4,371.0 286.6,363.2 286.8,371.7 287.0,366.1 287.2,364.6 287.4,375.6 287.6,372.4 287.8,366.2 288.0,371.5 288.2,372.5 288.4,368.4 288.6,365.4 288.8,371.3 289.0,370.1 289.2,369.5 289.4,359.3 289.6,367.9 289.8,372.7 290.0,360.7 290.2,363.5 290.4,361.6 290.6,362.6 290.8,363.9 291.0,371.3 291.2,362.8 291.4,370.8 291.6,359.5 291.8,366.2 292.0,363.0 292.2,361.2 292.4,364.0 292.6,368.4 292.8,364.0 293.0,365.0 293.2,362.2 293.4,363.8 293.6,363.2 293.8,364.8 294.0,360.5 294.2,358.2 294.4,358.6 294.6,358.2 294.8,362.4 295.0,356.5 295.2,362.7 295.4,360.5 295.6,364.6 295.8,359.9 296.0,363.3 296.2,360.4 296.4,359.1 296.6,356.8 296.8,359.8 297.0,358.0 297.2,354.8 297.4,355.1 297.6,350.2 297.8,361.6 298.0,361.3 298.2,354.2 298.4,350.6 298.6,358.6 298.8,360.3 299.0,355.2 299.2,352.2 299.4,360.2 299.6,358.4 299.8,358.8 300.0,360.8 300.2,353.7 300.4,354.4 300.6,360.1 300.8,356.9 301.0,359.7 301.2,345.9 301.4,345.8 301.6,354.8 301.8,354.0 302.0,346.7 302.2,347.4 302.4,347.4 302.6,353.7 302.8,344.4 303.0,349.7 303.2,346.8 303.4,343.2 303.6,350.8 303.8,356.6 304.0,348.2 304.2,352.3 304.4,348.9 304.6,347.6 304.8,341.6 305.0,347.1 305.2,341.1 305.4,344.7 305.6,347.8 305.8,347.7 306.0,343.1 306.2,345.8 306.4,341.6 306.6,349.5 306.8,340.7 307.0,353.1 307.2,349.4 307.4,345.1 307.6,352.8 307.8,340.9 308.0,350.9 308.2,342.0 308.4,345.0 308.6,342.0 308.8,340.8 309.0,341.5 309.2,345.1 309.4,342.5 309.6,351.6 309.8,344.1 310.0,335.9 310.2,339.6 310.4,341.7 310.6,344.4 310.8,345.7 311.0,335.8 311.2,343.3 311.4,337.7 311.6,342.3 311.8,340.2 312.0,348.1 312.2,346.7 312.4,349.3 312.6,336.9 312.8,338.1 313.0,340.9 313.2,337.5 313.4,336.9 313.6,343.0 313.8,349.3 314.0,341.7 314.2,348.2 314.4,331.7 314.6,348.3 314.8,347.9 315.0,339.7 315.2,335.9 315.4,341.5 315.6,330.5 315.8,339.4 316.0,330.2 316.2,345.4 316.4,337.0 316.6,333.3 316.8,329.6 317.0,343.5 317.2,336.8 317.4,333.5 317.6,341.5 317.8,329.4 318.0,340.5 318.2,341.3 318.4,333.9 318.6,340.3 318.8,341.9 319.0,331.2 319.2,331.3 319.4,337.6 319.6,337.1 319.8,330.4 320.0,326.9 320.2,326.9 320.4,338.1 320.6,330.9 320.8,329.0 321.0,334.0 321.2,326.2 321.4,338.4 321.6,326.0 321.8,331.1 322.0,333.1 322.2,333.8 322.4,327.2 322.6,329.9 322.8,334.7 323.0,331.2 323.2,333.0 323.4,330.9 323.6,330.9 323.8,327.1 324.0,325.9 324.2,328.8 324.4,325.8 324.6,334.0 324.8,331.5 325.0,332.9 325.2,324.2 325.4,324.7 325.6,330.7 325.8,329.1 326.0,329.2 326.2,331.3 326.4,325.4 326.6,324.6 326.8,325.7 327.0,332.6 327.2,327.9 327.4,325.8 327.6,331.8 327.8,330.2 328.0,330.0 328.2,329.2 328.4,326.9 328.6,331.5 328.8,329.5 329.0,324.3 329.2,324.4 329.4,325.5 329.6,329.1 329.8,325.5 330.0,326.2 330.2,325.7 330.4,326.9 330.6,329.4 330.8,325.6 331.0,326.5 331.2,329.7 331.4,322.8 331.6,326.7 331.8,326.3 332.0,325.5 332.2,327.7 332.4,328.7 332.6,325.2 332.8,325.0 333.0,326.2 333.2,322.3 333.4,323.8 333.6,325.0 333.8,324.7 334.0,322.6 334.2,326.1 334.4,321.5 334.6,322.2 334.8,321.4 335.0,324.0 335.2,324.7 335.4,322.7 335.6,325.1 335.8,321.8 336.0,322.6 336.2,322.7 336.4,322.1 336.6,322.3 336.8,319.9 337.0,318.6 337.2,320.4 337.4,320.6 337.6,320.7 337.8,319.0 338.0,318.5 338.2,323.6 338.4,321.9 338.6,321.0 338.8,320.5 339.0,318.9 339.2,319.7 339.4,322.0 339.6,321.6 339.8,318.7 340.0,318.8 340.2,318.7 340.4,318.3 340.6,321.2 340.8,320.6 341.0,319.9 341.2,318.2 341.4,321.5 341.6,319.2 341.8,316.2 342.0,321.3 342.2,319.4 342.4,317.8 342.6,321.2 342.8,315.8 343.0,317.5 343.2,319.9 343.4,317.2 343.6,321.4 343.8,321.3 344.0,318.9 344.2,318.7 344.4,321.1 344.6,319.3 344.8,316.2 345.0,317.6 345.2,316.5 345.4,319.3 345.6,318.5 345.8,320.8 346.0,318.8 346.2,317.1 346.4,316.5 346.6,321.1 346.8,320.8 347.0,317.2 347.2,316.2 347.4,316.1 347.6,320.5 347.8,318.3 348.0,321.5 348.2,318.3 348.4,318.6 348.6,318.7 348.8,320.2 349.0,321.7 349.2,317.9 349.4,320.6 349.6,321.6 349.8,319.3 350.0,319.0 350.2,321.1 350.4,318.5 350.6,318.9 350.8,317.8 351.0,318.3 351.2,319.4 351.4,319.4 351.6,318.5 351.8,318.8 352.0,316.6 352.2,320.8 352.4,316.7 352.6,319.0 352.8,317.0 353.0,318.1 353.2,315.5 353.4,316.8 353.6,315.9 353.8,318.1 354.0,317.7 354.2,316.0 354.4,315.8 354.6,317.8 354.8,316.4 355.0,317.9 355.2,317.3 355.4,316.1 355.6,316.3 355.8,314.2 356.0,316.5 356.2,316.0 356.4,316.1 356.6,318.3 356.8,316.1 357.0,315.7 357.2,315.5 357.4,314.7 357.6,317.5 357.8,315.0 358.0,317.0 358.2,315.9 358.4,313.4 358.6,314.8 358.8,316.1 359.0,313.6 359.2,314.1 359.4,313.5 359.6,313.4 359.8,314.8 360.0,312.0 360.2,312.7 360.4,313.3 360.6,310.2 360.8,312.2 361.0,312.8 361.2,313.1 361.4,311.1 361.6,310.4 361.8,313.5 362.0,310.6 362.2,312.4 362.4,311.6 362.6,310.0 362.8,310.3 363.0,309.6 363.2,312.9 363.4,311.6 363.6,308.6 363.8,314.3 364.0,314.1 364.2,314.0 364.4,310.3 364.6,311.2 364.8,311.2 365.0,314.7 365.2,312.5 365.4,313.0 365.6,312.3 365.8,310.6 366.0,314.3 366.2,315.5 366.4,312.7 366.6,311.9 366.8,312.4 367.0,312.6 367.2,311.2 367.4,312.6 367.6,312.8 367.8,310.9 368.0,313.7 368.2,312.3 368.4,311.2 368.6,312.9 368.8,315.1 369.0,314.8 369.2,314.3 369.4,314.2 369.6,313.9 369.8,313.4 370.0,313.6 370.2,314.5 370.4,311.5 370.6,313.3 370.8,309.9 371.0,312.9 371.2,313.9 371.4,311.2 371.6,313.9 371.8,310.1 372.0,313.7 372.2,311.0 372.4,311.8 372.6,310.6 372.8,312.1 373.0,310.8 373.2,312.6 373.4,310.9 373.6,311.1 373.8,310.3 374.0,311.2 374.2,310.1 374.4,310.6 374.6,309.0 374.8,310.6 375.0,310.8 375.2,311.4 375.4,311.8 375.6,309.6 375.8,313.3 376.0,314.6 376.2,312.5 376.4,310.2 376.6,314.0 376.8,313.0 377.0,312.8 377.2,313.6 377.4,313.5 377.6,313.4 377.8,314.7 378.0,314.4 378.2,313.7 378.4,315.4 378.6,316.4 378.8,316.7 379.0,313.4 379.2,315.2 379.4,316.2 379.6,315.7 379.8,315.4 380.0,317.5 380.2,316.5 380.4,316.8 380.6,314.1 380.8,314.3 381.0,315.9 381.2,317.0 381.4,318.3 381.6,315.9 381.8,319.5 382.0,317.6 382.2,316.7 382.4,318.9 382.6,320.0 382.8,318.0 383.0,318.1 383.2,318.6 383.4,319.5 383.6,318.1 383.8,318.5 384.0,319.0 384.2,318.6 384.4,319.6 384.6,318.0 384.8,316.5 385.0,318.5 385.2,318.9 385.4,322.2 385.6,321.6 385.8,320.6 386.0,319.2 386.2,318.2 386.4,319.2 386.6,321.3 386.8,320.3 387.0,318.9 387.2,321.2 387.4,319.8 387.6,321.9 387.8,324.0 388.0,322.9 388.2,318.6 388.4,323.7 388.6,320.8 388.8,322.4 389.0,322.7 389.2,322.6 389.4,319.2 389.6,324.6 389.8,320.6 390.0,320.7 390.2,322.9 390.4,323.8 390.6,321.5 390.8,319.8 391.0,323.5 391.2,322.3 391.4,324.4 391.6,325.2 391.8,320.7 392.0,320.7 392.2,322.8 392.4,321.6 392.6,326.1 392.8,323.5 393.0,323.6 393.2,323.9 393.4,326.3 393.6,324.4 393.8,325.2 394.0,322.5 394.2,325.2 394.4,323.2 394.6,323.0 394.8,323.0 395.0,326.3 395.2,323.6 395.4,325.0 395.6,324.5 395.8,325.3 396.0,323.4 396.2,322.1 396.4,324.0 396.6,324.8 396.8,323.1 397.0,324.7 397.2,326.0 397.4,321.9 397.6,327.7 397.8,326.8 398.0,325.6 398.2,327.3 398.4,322.2 398.6,325.5 398.8,325.9 399.0,326.1 399.2,326.1 399.4,328.0 399.6,326.6 399.8,324.3 400.0,322.9 400.2,323.8 400.4,324.8 400.6,325.9 400.8,325.5 401.0,326.0 401.2,324.6 401.4,325.0 401.6,326.3 401.8,325.3 402.0,324.6 402.2,325.0 402.4,326.6 402.6,324.9 402.8,325.3 403.0,328.4 403.2,325.7 403.4,326.3 403.6,327.8 403.8,328.5 404.0,327.1 404.2,324.0 404.4,328.6 404.6,324.7 404.8,324.3 405.0,324.9 405.2,328.5 405.4,326.2 405.6,323.8 405.8,328.7 406.0,323.9 406.2,328.8 406.4,324.0 406.6,326.2 406.8,326.5 407.0,325.6 407.2,326.6 407.4,328.6 407.6,327.5 407.8,328.5 408.0,327.8 408.2,328.2 408.4,327.2 408.6,328.3 408.8,329.9 409.0,330.5 409.2,327.3 409.4,328.3 409.6,329.8 409.8,329.5 410.0,328.7 410.2,327.8 410.4,330.8 410.6,329.6 410.8,333.2 411.0,332.9 411.2,332.0 411.4,329.6 411.6,330.7 411.8,333.7 412.0,331.1 412.2,332.1 412.4,333.4 412.6,333.8 412.8,332.6 413.0,334.2 413.2,331.2 413.4,333.8 413.6,333.9 413.8,336.6 414.0,335.2 414.2,332.4 414.4,337.4 414.6,337.7 414.8,336.5 415.0,337.0 415.2,338.6 415.4,336.5 415.6,336.7 415.8,337.5 416.0,335.0 416.2,336.8 416.4,339.0 416.6,339.1 416.8,336.2 417.0,338.4 417.2,338.2 417.4,338.3 417.6,341.1 417.8,338.6 418.0,339.9 418.2,341.5 418.4,339.4 418.6,341.0 418.8,339.8 419.0,341.6 419.2,341.7 419.4,343.1 419.6,341.7 419.8,342.3 420.0,340.7 420.2,342.3 420.4,342.0 420.6,341.9 420.8,343.6 421.0,344.4 421.2,344.3 421.4,346.1 421.6,343.7 421.8,343.4 422.0,342.2 422.2,346.3 422.4,345.6 422.6,345.6 422.8,343.5 423.0,343.7 423.2,343.8 423.4,342.7 423.6,345.3 423.8,344.6 424.0,346.6 424.2,345.1 424.4,344.5 424.6,345.8 424.8,345.9 425.0,343.2 425.2,342.6 425.4,343.1 425.6,346.3 425.8,345.9 426.0,347.0 426.2,345.1 426.4,345.6 426.6,344.4 426.8,347.4 427.0,346.1 427.2,347.4 427.4,345.9 427.6,344.0 427.8,346.7 428.0,342.9 428.2,346.4 428.4,345.0 428.6,345.9 428.8,343.5 429.0,345.4 429.2,344.4 429.4,344.0 429.6,347.5 429.8,346.1 430.0,344.8 430.2,344.4 430.4,344.9 430.6,345.7 430.8,346.0 431.0,345.6 431.2,343.2 431.4,345.7 431.6,346.1 431.8,347.0 432.0,345.9 432.2,345.8 432.4,346.3 432.6,345.5 432.8,348.8 433.0,345.3 433.2,345.1 433.4,347.1 433.6,347.2 433.8,347.8 434.0,346.7 434.2,346.2 434.4,345.9 434.6,347.3 434.8,347.8 435.0,347.4 435.2,345.7 435.4,345.7 435.6,349.4 435.8,347.9 436.0,347.7 436.2,350.5 436.4,349.5 436.6,346.3 436.8,347.9 437.0,349.9 437.2,349.5 437.4,349.1 437.6,351.2 437.8,346.9 438.0,350.2 438.2,348.3 438.4,351.0 438.6,349.2 438.8,347.0 439.0,349.9 439.2,347.4 439.4,351.7 439.6,350.9 439.8,352.4 440.0,351.4 440.2,351.5 440.4,353.7 440.6,353.0 440.8,349.9 441.0,351.5 441.2,354.8 441.4,351.1 441.6,351.2 441.8,352.1 442.0,351.4 442.2,354.1 442.4,353.9 442.6,355.9 442.8,354.3 443.0,357.4 443.2,354.8 443.4,356.9 443.6,357.6 443.8,356.6 444.0,356.1 444.2,354.6 444.4,355.2 444.6,358.0 444.8,356.8 445.0,358.6 445.2,356.9 445.4,358.3 445.6,358.6 445.8,359.9 446.0,358.5 446.2,360.4 446.4,357.3 446.6,358.0 446.8,360.3 447.0,360.2 447.2,361.2 447.4,358.3 447.6,361.0 447.8,358.5 448.0,362.6 448.2,359.8 448.4,360.2 448.6,361.7 448.8,361.5 449.0,360.3 449.2,360.9 449.4,363.3 449.6,360.0 449.8,363.4 450.0,360.7 450.2,359.9 450.4,363.2 450.6,362.4 450.8,361.8 451.0,363.0 451.2,361.6 451.4,361.3 451.6,362.6 451.8,362.4 452.0,361.3 452.2,363.6 452.4,362.7 452.6,364.0 452.8,364.0 453.0,360.9 453.2,363.1 453.4,363.0 453.6,361.2 453.8,363.2 454.0,360.7 454.2,361.3 454.4,363.6 454.6,361.1 454.8,362.0 455.0,362.7 455.2,361.3 455.4,362.1 455.6,363.3 455.8,363.1 456.0,362.7 456.2,364.6 456.4,362.9 456.6,364.1 456.8,363.3 457.0,361.7 457.2,362.2 457.4,364.0 457.6,361.8 457.8,363.7 458.0,364.3 458.2,362.3 458.4,361.8 458.6,365.0 458.8,365.5 459.0,364.0 459.2,365.6 459.4,364.6 459.6,363.3 459.8,364.2 460.0,364.8 460.2,362.2 460.4,364.4 460.6,365.6 460.8,365.0 461.0,363.8 461.2,363.9 461.4,362.4 461.6,365.3 461.8,362.5 462.0,365.3 462.2,364.9 462.4,364.0 462.6,365.1 462.8,365.7 463.0,364.0 463.2,363.1 463.4,365.8 463.6,364.6 463.8,365.1 464.0,363.5 464.2,366.5 464.4,365.9 464.6,363.4 464.8,363.1 465.0,365.3 465.2,364.8 465.4,364.3 465.6,364.3 465.8,365.0 466.0,365.4 466.2,365.5 466.4,367.1 466.6,367.2 466.8,363.5 467.0,366.5 467.2,367.1 467.4,363.6 467.6,364.8 467.8,365.0 468.0,366.5 468.2,366.1 468.4,366.1 468.6,366.0 468.8,366.9 469.0,366.2 469.2,364.7 469.4,364.8 469.6,365.2 469.8,367.8 470.0,366.5 470.2,367.0 470.4,368.0 470.6,366.7 470.8,364.5 471.0,366.8 471.2,365.8 471.4,366.0 471.6,365.8 471.8,366.6 472.0,365.4 472.2,368.1 472.4,367.8 472.6,367.6 472.8,367.6 473.0,366.0 473.2,368.3 473.4,366.3 473.6,365.6 473.8,367.2 474.0,367.8 474.2,367.9 474.4,369.1 474.6,367.4 474.8,369.4 475.0,369.8 475.2,368.6 475.4,367.0 475.6,369.9 475.8,368.4 476.0,368.7 476.2,366.9 476.4,366.7 476.6,370.5 476.8,369.7 477.0,368.0 477.2,368.4 477.4,367.6 477.6,369.1 477.8,367.3 478.0,370.2 478.2,369.8 478.4,370.7 478.6,369.6 478.8,370.3 479.0,370.2 479.2,370.4 479.4,369.1 479.6,371.2 479.8,368.4 480.0,369.4 480.2,369.9 480.4,371.7 480.6,368.7 480.8,370.1 481.0,370.2 481.2,367.8 481.4,371.4 481.6,370.7 481.8,369.8 482.0,369.1 482.2,370.2 482.4,367.4 482.6,371.0 482.8,368.7 483.0,370.2 483.2,367.8 483.4,368.2 483.6,367.0 483.8,368.4 484.0,368.6 484.2,367.8 484.4,370.4 484.6,368.3 484.8,368.3 485.0,367.2 485.2,368.9 485.4,367.6 485.6,368.0 485.8,366.9 486.0,369.4 486.2,369.8 486.4,368.0 486.6,369.0 486.8,368.0 487.0,370.0 487.2,370.1 487.4,368.4 487.6,370.1 487.8,367.7 488.0,369.6 488.2,368.7 488.4,370.3 488.6,370.5 488.8,368.8 489.0,369.2 489.2,370.2 489.4,370.5 489.6,370.8 489.8,371.4 490.0,370.9 490.2,373.4 490.4,372.3 490.6,371.2 490.8,373.6 491.0,373.1 491.2,373.8 491.4,374.0 491.6,371.6 491.8,372.6 492.0,373.1 492.2,371.6 492.4,374.2 492.6,372.8 492.8,374.7 493.0,374.9"/>
</g>
<g fill="none" stroke-width="1.5" stroke-dasharray="7 5">
<polyline stroke="#e02b2b" points="254.6,413.0 254.9,412.3 255.3,411.4 255.7,410.3 256.3,408.9 256.9,407.3 257.5,405.4 258.2,403.1 259.0,400.4 259.8,397.4 260.7,394.3 261.6,391.2 262.4,388.2 263.2,385.4 263.9,382.6 264.7,379.9 265.5,377.1 266.3,374.1 267.3,371.0 268.4,367.5 269.7,363.6 271.1,359.6 272.4,355.7 273.7,352.1 274.8,349.1 275.7,346.7 276.5,344.9 277.2,343.3 277.9,341.9 278.5,340.5 279.2,338.8 279.9,336.9 280.5,335.0 281.2,333.0 281.8,331.0 282.5,329.0 283.2,327.0 284.0,325.0 284.8,322.9 285.6,320.9 286.4,318.8 287.3,316.8 288.1,314.7 288.9,312.6 289.8,310.6 290.6,308.5 291.4,306.4 292.2,304.4 293.0,302.5 293.7,300.7 294.3,299.1 294.9,297.5 295.5,295.9 296.1,294.2 296.8,292.3 297.6,290.2 298.5,287.9 299.4,285.6 300.3,283.2 301.3,280.8 302.2,278.6 303.1,276.5 304.0,274.6 304.9,272.7 305.7,270.8 306.7,268.9 307.6,266.8 308.6,264.6 309.6,262.2 310.7,259.9 311.8,257.5 312.8,255.2 313.8,253.1 314.7,251.2 315.6,249.5 316.5,247.8 317.4,246.2 318.3,244.5 319.2,242.8 320.1,241.0 321.1,239.1 322.1,237.2 323.1,235.3 324.1,233.4 325.1,231.5 326.1,229.6 327.2,227.6 328.2,225.7 329.3,223.7 330.4,221.7 331.5,219.7 332.6,217.7 333.6,215.9 334.7,214.0 335.8,211.9 337.2,209.6 338.9,207.0 341.0,203.8 343.5,200.1 346.2,196.1 348.9,192.2 351.5,188.5 353.7,185.4 355.5,182.8 357.2,180.5 358.7,178.5 360.0,176.7 361.3,175.2 362.5,173.8 363.6,172.7 364.5,172.0 365.3,171.5 366.1,171.0 367.1,170.3 368.4,169.2 370.0,167.6 371.8,165.7 373.8,163.6 375.9,161.4 377.9,159.4 380.0,157.5 381.9,155.9 383.8,154.3 385.7,152.9 387.7,151.5 390.0,150.1 392.5,148.8 395.5,147.3 399.0,145.8 402.7,144.4 406.3,143.0 409.7,141.9 412.5,141.0 414.7,140.4 416.3,140.1 417.7,140.0 419.0,139.9 420.3,140.0 422.0,140.0 424.0,140.0 426.1,140.0 428.3,140.0 430.6,140.2 432.8,140.5 435.0,141.0 437.1,141.7 439.2,142.7 441.3,143.8 443.4,145.0 445.4,146.2 447.5,147.5 449.6,148.8 451.7,150.1 453.8,151.4 455.8,152.9 457.9,154.4 460.0,156.0 462.1,157.8 464.3,159.7 466.4,161.7 468.5,163.7 470.6,165.6 472.5,167.5 474.3,169.2 475.9,170.7 477.5,172.1 479.1,173.7 480.7,175.4 482.5,177.5 484.4,180.0 486.5,182.7 488.6,185.6 490.7,188.7 492.9,191.9 495.0,195.0 497.1,198.2 499.2,201.4 501.2,204.7 503.3,208.1 505.4,211.5 507.5,215.0 509.6,218.5 511.7,222.1 513.8,225.8 515.9,229.5 518.0,233.3 520.0,237.0 521.9,240.7 523.7,244.4 525.5,248.1 527.3,251.9 529.1,255.9 531.0,260.0 533.0,264.5 535.0,269.2 537.1,274.1 539.2,279.0 541.2,283.7 543.0,288.0 544.7,292.1 546.3,296.0 547.8,299.7 549.2,303.2 550.6,306.4 551.8,309.4 552.9,312.0 553.8,314.1 554.7,316.1 555.5,317.9 556.3,319.7 557.1,321.8 558.0,324.0 558.9,326.3 559.8,328.6 560.6,331.0 561.5,333.4 562.4,335.9 563.3,338.4 564.2,341.1 565.0,343.7 565.9,346.4 566.8,349.1 567.7,351.8 568.6,354.5 569.5,357.2 570.5,360.0 571.4,362.7 572.2,365.3 573.0,367.7 573.7,369.9 574.2,371.9 574.8,373.7 575.3,375.6 575.9,377.7 576.6,380.0 577.5,382.7 578.5,385.7 579.5,388.8 580.6,391.9 581.7,395.0 582.7,397.9 583.7,400.8 584.7,403.7 585.7,406.6 586.7,409.2 587.4,411.4 588.0,413.0"/>
<polyline stroke="#1a1a9a" points="266.0,406.6 267.0,404.6 268.3,401.9 269.9,398.6 271.6,395.1 273.2,391.5 274.6,388.2 275.8,385.0 276.8,381.7 277.9,378.3 278.8,375.0 279.8,371.7 280.8,368.6 281.9,365.5 283.0,362.3 284.1,359.2 285.2,356.3 286.1,353.7 286.9,351.4 287.4,349.7 287.7,348.4 287.9,347.5 288.1,346.6 288.3,345.6 288.6,344.2 289.0,342.5 289.5,340.6 290.0,338.6 290.5,336.5 291.0,334.4 291.5,332.4 292.0,330.4 292.5,328.5 293.0,326.5 293.5,324.5 294.0,322.6 294.5,320.6 295.0,318.6 295.5,316.5 296.0,314.5 296.4,312.5 296.9,310.6 297.4,308.8 297.9,307.2 298.3,305.9 298.8,304.6 299.2,303.3 299.7,301.9 300.2,300.2 300.7,298.2 301.3,295.9 301.9,293.4 302.6,291.0 303.1,288.6 303.7,286.4 304.2,284.5 304.7,282.7 305.1,281.1 305.5,279.4 306.0,277.6 306.6,275.6 307.3,273.4 308.0,270.9 308.8,268.4 309.6,265.8 310.3,263.3 311.0,260.9 311.6,258.7 312.1,256.5 312.6,254.4 313.2,252.3 313.7,250.2 314.3,248.2 315.0,246.2 315.7,244.2 316.5,242.2 317.3,240.3 318.1,238.4 318.8,236.4 319.5,234.4 320.1,232.5 320.8,230.5 321.4,228.6 322.0,226.6 322.7,224.6 323.4,222.6 324.1,220.6 324.8,218.5 325.5,216.5 326.3,214.4 327.1,212.4 327.9,210.4 328.7,208.5 329.6,206.6 330.5,204.6 331.7,202.5 333.0,200.1 334.6,197.4 336.5,194.4 338.5,191.3 340.6,188.2 342.8,185.2 344.8,182.4 346.8,179.8 348.9,177.4 351.0,175.0 353.1,172.8 354.9,170.9 356.6,169.2 358.0,167.8 359.2,166.7 360.2,165.8 361.1,165.1 362.1,164.5 363.0,164.0 363.9,163.6 364.6,163.4 365.4,163.3 366.2,163.3 367.2,163.4 368.4,163.5 370.0,163.7 371.8,163.9 373.8,164.2 375.8,164.7 377.9,165.2 380.0,166.0 382.1,167.0 384.3,168.1 386.5,169.4 388.7,170.8 390.7,172.3 392.5,173.8 394.0,175.2 395.1,176.7 396.1,178.2 397.2,179.9 398.4,181.6 400.0,183.6 402.0,185.8 404.4,188.1 406.9,190.5 409.5,193.1 412.2,195.8 414.7,198.5 417.2,201.3 419.6,204.1 422.1,207.1 424.6,210.1 427.0,213.2 429.5,216.5 432.0,219.9 434.4,223.6 436.9,227.3 439.3,231.1 441.8,234.8 444.2,238.3 446.6,241.6 449.0,244.8 451.4,247.9 453.8,251.0 456.3,254.2 458.9,257.6 461.7,261.2 464.5,264.9 467.5,268.7 470.5,272.6 473.6,276.5 476.6,280.3 479.7,284.2 483.0,288.3 486.3,292.4 489.5,296.3 492.5,300.0 495.3,303.3 497.7,306.1 499.9,308.5 501.9,310.6 503.8,312.6 505.7,314.5 507.7,316.5 509.8,318.5 511.8,320.5 513.9,322.4 515.9,324.3 517.9,326.2 520.0,328.0 522.1,329.8 524.1,331.6 526.2,333.4 528.3,335.2 530.3,336.9 532.4,338.6 534.5,340.3 536.5,342.0 538.6,343.6 540.7,345.2 542.7,346.8 544.8,348.3 546.9,349.8 548.9,351.2 550.9,352.5 553.0,353.8 555.0,355.1 557.1,356.3 559.1,357.4 561.1,358.4 563.0,359.4 565.0,360.3 567.2,361.3 569.5,362.4 572.3,363.6 575.4,365.0 578.7,366.5 581.9,367.8 584.5,369.0 586.4,369.8"/>
</g>
<!-- axes -->
<g stroke="#1a1a1a" stroke-width="1.5" fill="none">
<line x1="116.5" y1="63" x2="116.5" y2="413.7"/>
<line x1="116" y1="413" x2="588.3" y2="413"/>
<line x1="110" y1="413" x2="116.5" y2="413"/>
<line x1="110" y1="296.5" x2="116.5" y2="296.5"/>
<line x1="110" y1="180" x2="116.5" y2="180"/>
<line x1="110" y1="63.5" x2="116.5" y2="63.5"/>
<line x1="112.5" y1="354.75" x2="116.5" y2="354.75"/>
<line x1="112.5" y1="238.25" x2="116.5" y2="238.25"/>
<line x1="112.5" y1="121.75" x2="116.5" y2="121.75"/>
<line x1="194.8" y1="413" x2="194.8" y2="420"/>
<line x1="325.6" y1="413" x2="325.6" y2="420"/>
<line x1="456.4" y1="413" x2="456.4" y2="420"/>
<line x1="587.3" y1="413" x2="587.3" y2="420"/>
<line x1="129.4" y1="413" x2="129.4" y2="417"/>
<line x1="260.2" y1="413" x2="260.2" y2="417"/>
<line x1="391" y1="413" x2="391" y2="417"/>
<line x1="521.8" y1="413" x2="521.8" y2="417"/>
</g>
<!-- tick labels -->
<g font-weight="bold" font-size="16" fill="#000" text-anchor="end">
<text x="104.5" y="417.9">0,0</text>
<text x="104.5" y="301.4">0,2</text>
<text x="104.5" y="184.9">0,4</text>
<text x="104.5" y="68.4">0,6</text>
</g>
<g font-weight="bold" font-size="16" fill="#000" text-anchor="middle">
<text x="194.7" y="437.6">3,0</text>
<text x="325.7" y="437.6">3,5</text>
<text x="456.7" y="437.6">4,0</text>
<text x="587.7" y="437.6">4,5</text>
</g>
<!-- title -->
<text x="128.5" y="46.3" font-size="16.4" fill="#000" textLength="155.5" lengthAdjust="spacingAndGlyphs">hybridization regimes</text>
<!-- regimes -->
<g font-weight="bold" font-size="22.5" fill="#000">
<text x="219.9" y="80.6">N</text>
<text x="287.9" y="80.6" textLength="39.4" lengthAdjust="spacingAndGlyphs">mix</text>
<text x="404.9" y="80.6">S</text>
<text x="472.1" y="80.6" textLength="34.5" lengthAdjust="spacingAndGlyphs">sat</text>
<text x="550.7" y="80.6" textLength="25" lengthAdjust="spacingAndGlyphs">as</text>
</g>
<!-- axis titles -->
<text transform="translate(59.3,231.5) rotate(-90)" text-anchor="middle" font-family="Liberation Serif, serif" font-size="25" fill="#000">Δ</text>
<text x="316.2" y="472.5" font-family="Liberation Serif, serif" font-size="24.5" fill="#000">Σ</text>
<text x="331.6" y="472.6" font-size="26.5" fill="#000" textLength="56.3" lengthAdjust="spacingAndGlyphs">(t=0)</text>
<!-- annotations -->
<text x="531.1" y="176.8" font-family="Liberation Serif, serif" font-size="25" fill="#808080">Δ</text>
<text x="547.3" y="177" font-size="25" font-weight="bold" fill="#808080" textLength="56" lengthAdjust="spacingAndGlyphs">(t=0)</text>
<text x="472" y="150" font-size="16" fill="#000">90%</text>
<text x="469.5" y="323.7" font-size="16" fill="#000">50%</text>
<text x="472.5" y="399" font-size="16" fill="#000">40%</text>
<text x="388.3" y="246.2" font-family="Liberation Serif, serif" font-size="32.2" fill="#008581">Δ</text>
<text x="408.5" y="259.5" font-size="19" font-weight="bold" fill="#008581">w</text>
<text x="394.3" y="377" font-family="Liberation Serif, serif" font-size="32.2" fill="#800080">Δ</text>
<text x="415" y="391" font-size="19" font-weight="bold" font-family="Liberation Serif, serif" fill="#800080">τ</text>
</svg>
</body></html>
